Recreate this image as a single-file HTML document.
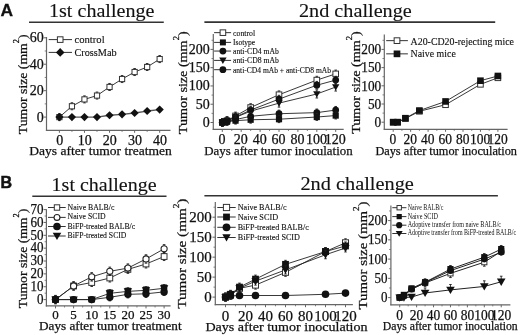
<!DOCTYPE html>
<html><head><meta charset="utf-8"><style>
html,body{margin:0;padding:0;background:#fff;width:520px;height:335px;overflow:hidden;}
svg{display:block;filter:blur(0.3px);}
</style></head><body>
<svg width="520" height="335" viewBox="0 0 520 335">
<rect width="520" height="335" fill="#fff"/>
<text x="0.50" y="15.80" font-size="17.4" font-family="Liberation Sans" font-weight="bold" text-anchor="start" fill="#111" stroke="#111" stroke-width="0.3" >A</text>
<text x="0.50" y="188.20" font-size="16.0" font-family="Liberation Sans" font-weight="bold" text-anchor="start" fill="#111" stroke="#111" stroke-width="0.5" >B</text>
<text x="49.00" y="16.70" font-size="19.6" font-family="Liberation Serif" font-weight="normal" text-anchor="start" fill="#111" stroke="#111" stroke-width="0.12" textLength="105.50" lengthAdjust="spacingAndGlyphs" >1st challenge</text>
<line x1="29.00" y1="22.30" x2="163.80" y2="22.30" stroke="#333" stroke-width="1.6" />
<text x="299.00" y="16.70" font-size="19.6" font-family="Liberation Serif" font-weight="normal" text-anchor="start" fill="#111" stroke="#111" stroke-width="0.12" textLength="112.80" lengthAdjust="spacingAndGlyphs" >2nd challenge</text>
<line x1="204.40" y1="22.10" x2="495.20" y2="22.10" stroke="#333" stroke-width="1.6" />
<text x="51.60" y="191.30" font-size="19.6" font-family="Liberation Serif" font-weight="normal" text-anchor="start" fill="#111" stroke="#111" stroke-width="0.12" textLength="105.00" lengthAdjust="spacingAndGlyphs" >1st challenge</text>
<line x1="32.30" y1="196.30" x2="166.50" y2="196.30" stroke="#333" stroke-width="1.6" />
<text x="300.40" y="190.00" font-size="19.6" font-family="Liberation Serif" font-weight="normal" text-anchor="start" fill="#111" stroke="#111" stroke-width="0.12" textLength="113.50" lengthAdjust="spacingAndGlyphs" >2nd challenge</text>
<line x1="204.40" y1="195.80" x2="497.90" y2="195.80" stroke="#333" stroke-width="1.6" />
<line x1="46.50" y1="37.00" x2="46.50" y2="130.80" stroke="#666" stroke-width="1.2" />
<line x1="45.90" y1="130.30" x2="170.50" y2="130.30" stroke="#666" stroke-width="1.2" />
<line x1="43.70" y1="117.10" x2="46.50" y2="117.10" stroke="#666" stroke-width="1" />
<text x="43.70" y="121.53" font-size="14" font-family="Liberation Serif" font-weight="normal" text-anchor="end" fill="#111" stroke="#111" stroke-width="0.25" >0</text>
<line x1="43.70" y1="90.67" x2="46.50" y2="90.67" stroke="#666" stroke-width="1" />
<text x="43.70" y="95.09" font-size="14" font-family="Liberation Serif" font-weight="normal" text-anchor="end" fill="#111" stroke="#111" stroke-width="0.25" >20</text>
<line x1="43.70" y1="64.23" x2="46.50" y2="64.23" stroke="#666" stroke-width="1" />
<text x="43.70" y="68.66" font-size="14" font-family="Liberation Serif" font-weight="normal" text-anchor="end" fill="#111" stroke="#111" stroke-width="0.25" >40</text>
<line x1="43.70" y1="37.80" x2="46.50" y2="37.80" stroke="#666" stroke-width="1" />
<text x="43.70" y="42.22" font-size="14" font-family="Liberation Serif" font-weight="normal" text-anchor="end" fill="#111" stroke="#111" stroke-width="0.25" >60</text>
<line x1="44.70" y1="103.88" x2="46.50" y2="103.88" stroke="#666" stroke-width="0.8" />
<line x1="44.70" y1="77.45" x2="46.50" y2="77.45" stroke="#666" stroke-width="0.8" />
<line x1="44.70" y1="51.01" x2="46.50" y2="51.01" stroke="#666" stroke-width="0.8" />
<line x1="59.40" y1="130.30" x2="59.40" y2="132.80" stroke="#666" stroke-width="1" />
<text x="59.70" y="144.58" font-size="14" font-family="Liberation Serif" font-weight="normal" text-anchor="middle" fill="#111" stroke="#111" stroke-width="0.25" >0</text>
<line x1="84.47" y1="130.30" x2="84.47" y2="132.80" stroke="#666" stroke-width="1" />
<text x="84.77" y="144.58" font-size="14" font-family="Liberation Serif" font-weight="normal" text-anchor="middle" fill="#111" stroke="#111" stroke-width="0.25" >10</text>
<line x1="109.54" y1="130.30" x2="109.54" y2="132.80" stroke="#666" stroke-width="1" />
<text x="109.84" y="144.58" font-size="14" font-family="Liberation Serif" font-weight="normal" text-anchor="middle" fill="#111" stroke="#111" stroke-width="0.25" >20</text>
<line x1="134.61" y1="130.30" x2="134.61" y2="132.80" stroke="#666" stroke-width="1" />
<text x="134.91" y="144.58" font-size="14" font-family="Liberation Serif" font-weight="normal" text-anchor="middle" fill="#111" stroke="#111" stroke-width="0.25" >30</text>
<line x1="159.68" y1="130.30" x2="159.68" y2="132.80" stroke="#666" stroke-width="1" />
<text x="159.98" y="144.58" font-size="14" font-family="Liberation Serif" font-weight="normal" text-anchor="middle" fill="#111" stroke="#111" stroke-width="0.25" >40</text>
<line x1="71.94" y1="130.30" x2="71.94" y2="131.90" stroke="#666" stroke-width="0.8" />
<line x1="97.00" y1="130.30" x2="97.00" y2="131.90" stroke="#666" stroke-width="0.8" />
<line x1="122.08" y1="130.30" x2="122.08" y2="131.90" stroke="#666" stroke-width="0.8" />
<line x1="147.15" y1="130.30" x2="147.15" y2="131.90" stroke="#666" stroke-width="0.8" />
<g transform="translate(27.20,134.15) rotate(-90) scale(1.0469,1)"><text x="0" y="0" font-size="13.1" font-family="Liberation Serif" fill="#111" stroke="#111" stroke-width="0.25">Tumor size (mm<tspan dy="-7.9" font-size="8.0">2</tspan><tspan dy="7.9">)</tspan></text></g>
<text x="29.30" y="154.60" font-size="13.3" font-family="Liberation Serif" font-weight="normal" text-anchor="start" fill="#111" stroke="#111" stroke-width="0.25" textLength="142.60" lengthAdjust="spacingAndGlyphs" >Days after tumor treatmen</text>
<polyline points="59.40,117.10 71.94,106.26 84.47,99.39 97.00,95.56 109.54,86.97 122.08,79.04 134.61,72.03 147.15,67.01 159.68,59.08" fill="none" stroke="#222" stroke-width="0.9" stroke-linejoin="round"/>
<polyline points="59.40,117.10 71.94,117.10 84.47,117.10 97.00,117.10 109.54,115.25 122.08,114.32 134.61,113.00 147.15,111.02 159.68,109.57" fill="none" stroke="#555" stroke-width="1.3" stroke-linejoin="round"/>
<line x1="59.40" y1="113.60" x2="59.40" y2="117.10" stroke="#222" stroke-width="0.9" />
<line x1="58.10" y1="113.60" x2="60.70" y2="113.60" stroke="#222" stroke-width="0.9" />
<line x1="59.40" y1="117.10" x2="59.40" y2="120.60" stroke="#222" stroke-width="0.9" />
<line x1="58.10" y1="120.60" x2="60.70" y2="120.60" stroke="#222" stroke-width="0.9" />
<rect x="56.80" y="114.50" width="5.20" height="5.20" fill="#fff" stroke="#333" stroke-width="1.0"/>
<line x1="71.94" y1="102.76" x2="71.94" y2="106.26" stroke="#222" stroke-width="0.9" />
<line x1="70.64" y1="102.76" x2="73.23" y2="102.76" stroke="#222" stroke-width="0.9" />
<line x1="71.94" y1="106.26" x2="71.94" y2="109.76" stroke="#222" stroke-width="0.9" />
<line x1="70.64" y1="109.76" x2="73.23" y2="109.76" stroke="#222" stroke-width="0.9" />
<rect x="69.34" y="103.66" width="5.20" height="5.20" fill="#fff" stroke="#333" stroke-width="1.0"/>
<line x1="84.47" y1="95.89" x2="84.47" y2="99.39" stroke="#222" stroke-width="0.9" />
<line x1="83.17" y1="95.89" x2="85.77" y2="95.89" stroke="#222" stroke-width="0.9" />
<line x1="84.47" y1="99.39" x2="84.47" y2="102.89" stroke="#222" stroke-width="0.9" />
<line x1="83.17" y1="102.89" x2="85.77" y2="102.89" stroke="#222" stroke-width="0.9" />
<rect x="81.87" y="96.79" width="5.20" height="5.20" fill="#fff" stroke="#333" stroke-width="1.0"/>
<line x1="97.00" y1="92.06" x2="97.00" y2="95.56" stroke="#222" stroke-width="0.9" />
<line x1="95.70" y1="92.06" x2="98.30" y2="92.06" stroke="#222" stroke-width="0.9" />
<line x1="97.00" y1="95.56" x2="97.00" y2="99.06" stroke="#222" stroke-width="0.9" />
<line x1="95.70" y1="99.06" x2="98.30" y2="99.06" stroke="#222" stroke-width="0.9" />
<rect x="94.41" y="92.96" width="5.20" height="5.20" fill="#fff" stroke="#333" stroke-width="1.0"/>
<line x1="109.54" y1="83.47" x2="109.54" y2="86.97" stroke="#222" stroke-width="0.9" />
<line x1="108.24" y1="83.47" x2="110.84" y2="83.47" stroke="#222" stroke-width="0.9" />
<line x1="109.54" y1="86.97" x2="109.54" y2="90.47" stroke="#222" stroke-width="0.9" />
<line x1="108.24" y1="90.47" x2="110.84" y2="90.47" stroke="#222" stroke-width="0.9" />
<rect x="106.94" y="84.37" width="5.20" height="5.20" fill="#fff" stroke="#333" stroke-width="1.0"/>
<line x1="122.08" y1="75.54" x2="122.08" y2="79.04" stroke="#222" stroke-width="0.9" />
<line x1="120.78" y1="75.54" x2="123.38" y2="75.54" stroke="#222" stroke-width="0.9" />
<line x1="122.08" y1="79.04" x2="122.08" y2="82.54" stroke="#222" stroke-width="0.9" />
<line x1="120.78" y1="82.54" x2="123.38" y2="82.54" stroke="#222" stroke-width="0.9" />
<rect x="119.48" y="76.44" width="5.20" height="5.20" fill="#fff" stroke="#333" stroke-width="1.0"/>
<line x1="134.61" y1="68.53" x2="134.61" y2="72.03" stroke="#222" stroke-width="0.9" />
<line x1="133.31" y1="68.53" x2="135.91" y2="68.53" stroke="#222" stroke-width="0.9" />
<line x1="134.61" y1="72.03" x2="134.61" y2="75.53" stroke="#222" stroke-width="0.9" />
<line x1="133.31" y1="75.53" x2="135.91" y2="75.53" stroke="#222" stroke-width="0.9" />
<rect x="132.01" y="69.43" width="5.20" height="5.20" fill="#fff" stroke="#333" stroke-width="1.0"/>
<line x1="147.15" y1="63.51" x2="147.15" y2="67.01" stroke="#222" stroke-width="0.9" />
<line x1="145.84" y1="63.51" x2="148.45" y2="63.51" stroke="#222" stroke-width="0.9" />
<line x1="147.15" y1="67.01" x2="147.15" y2="70.51" stroke="#222" stroke-width="0.9" />
<line x1="145.84" y1="70.51" x2="148.45" y2="70.51" stroke="#222" stroke-width="0.9" />
<rect x="144.55" y="64.41" width="5.20" height="5.20" fill="#fff" stroke="#333" stroke-width="1.0"/>
<line x1="159.68" y1="55.58" x2="159.68" y2="59.08" stroke="#222" stroke-width="0.9" />
<line x1="158.38" y1="55.58" x2="160.98" y2="55.58" stroke="#222" stroke-width="0.9" />
<line x1="159.68" y1="59.08" x2="159.68" y2="62.58" stroke="#222" stroke-width="0.9" />
<line x1="158.38" y1="62.58" x2="160.98" y2="62.58" stroke="#222" stroke-width="0.9" />
<rect x="157.08" y="56.48" width="5.20" height="5.20" fill="#fff" stroke="#333" stroke-width="1.0"/>
<path d="M59.40,113.00 L63.50,117.10 L59.40,121.20 L55.30,117.10Z" fill="#111"/>
<path d="M71.94,113.00 L76.03,117.10 L71.94,121.20 L67.84,117.10Z" fill="#111"/>
<path d="M84.47,113.00 L88.57,117.10 L84.47,121.20 L80.37,117.10Z" fill="#111"/>
<path d="M97.00,113.00 L101.10,117.10 L97.00,121.20 L92.91,117.10Z" fill="#111"/>
<path d="M109.54,111.15 L113.64,115.25 L109.54,119.35 L105.44,115.25Z" fill="#111"/>
<path d="M122.08,110.22 L126.17,114.32 L122.08,118.42 L117.98,114.32Z" fill="#111"/>
<path d="M134.61,108.90 L138.71,113.00 L134.61,117.10 L130.51,113.00Z" fill="#111"/>
<path d="M147.15,106.92 L151.25,111.02 L147.15,115.12 L143.05,111.02Z" fill="#111"/>
<path d="M159.68,105.47 L163.78,109.57 L159.68,113.67 L155.58,109.57Z" fill="#111"/>
<line x1="48.70" y1="39.60" x2="72.00" y2="39.60" stroke="#333" stroke-width="1.0" />
<rect x="57.40" y="36.80" width="5.60" height="5.60" fill="#fff" stroke="#333" stroke-width="1.0"/>
<text x="74.40" y="42.90" font-size="10.5" font-family="Liberation Serif" font-weight="normal" text-anchor="start" fill="#111" stroke="#111" stroke-width="0.12" textLength="30.30" lengthAdjust="spacingAndGlyphs" >control</text>
<line x1="48.70" y1="52.40" x2="72.00" y2="52.40" stroke="#333" stroke-width="1.0" />
<path d="M60.20,48.10 L64.50,52.40 L60.20,56.70 L55.90,52.40Z" fill="#111"/>
<text x="74.40" y="56.00" font-size="10.5" font-family="Liberation Serif" font-weight="normal" text-anchor="start" fill="#111" stroke="#111" stroke-width="0.12" textLength="42.20" lengthAdjust="spacingAndGlyphs" >CrossMab</text>
<line x1="213.30" y1="34.10" x2="213.30" y2="129.90" stroke="#666" stroke-width="1.2" />
<line x1="212.70" y1="129.40" x2="343.70" y2="129.40" stroke="#666" stroke-width="1.2" />
<line x1="210.50" y1="122.50" x2="213.30" y2="122.50" stroke="#666" stroke-width="1" />
<text x="209.80" y="126.78" font-size="14" font-family="Liberation Serif" font-weight="normal" text-anchor="end" fill="#111" stroke="#111" stroke-width="0.25" >0</text>
<line x1="210.50" y1="104.22" x2="213.30" y2="104.22" stroke="#666" stroke-width="1" />
<text x="209.80" y="108.50" font-size="14" font-family="Liberation Serif" font-weight="normal" text-anchor="end" fill="#111" stroke="#111" stroke-width="0.25" >50</text>
<line x1="210.50" y1="85.95" x2="213.30" y2="85.95" stroke="#666" stroke-width="1" />
<text x="209.80" y="90.23" font-size="14" font-family="Liberation Serif" font-weight="normal" text-anchor="end" fill="#111" stroke="#111" stroke-width="0.25" >100</text>
<line x1="210.50" y1="67.68" x2="213.30" y2="67.68" stroke="#666" stroke-width="1" />
<text x="209.80" y="71.95" font-size="14" font-family="Liberation Serif" font-weight="normal" text-anchor="end" fill="#111" stroke="#111" stroke-width="0.25" >150</text>
<line x1="210.50" y1="49.40" x2="213.30" y2="49.40" stroke="#666" stroke-width="1" />
<text x="209.80" y="53.68" font-size="14" font-family="Liberation Serif" font-weight="normal" text-anchor="end" fill="#111" stroke="#111" stroke-width="0.25" >200</text>
<line x1="211.50" y1="113.36" x2="213.30" y2="113.36" stroke="#666" stroke-width="0.8" />
<line x1="211.50" y1="95.09" x2="213.30" y2="95.09" stroke="#666" stroke-width="0.8" />
<line x1="211.50" y1="76.81" x2="213.30" y2="76.81" stroke="#666" stroke-width="0.8" />
<line x1="211.50" y1="58.54" x2="213.30" y2="58.54" stroke="#666" stroke-width="0.8" />
<line x1="211.50" y1="40.26" x2="213.30" y2="40.26" stroke="#666" stroke-width="0.8" />
<line x1="222.30" y1="129.40" x2="222.30" y2="131.90" stroke="#666" stroke-width="1" />
<text x="221.90" y="144.33" font-size="14" font-family="Liberation Serif" font-weight="normal" text-anchor="middle" fill="#111" stroke="#111" stroke-width="0.25" >0</text>
<line x1="241.20" y1="129.40" x2="241.20" y2="131.90" stroke="#666" stroke-width="1" />
<text x="240.80" y="144.33" font-size="14" font-family="Liberation Serif" font-weight="normal" text-anchor="middle" fill="#111" stroke="#111" stroke-width="0.25" >20</text>
<line x1="260.10" y1="129.40" x2="260.10" y2="131.90" stroke="#666" stroke-width="1" />
<text x="259.70" y="144.33" font-size="14" font-family="Liberation Serif" font-weight="normal" text-anchor="middle" fill="#111" stroke="#111" stroke-width="0.25" >40</text>
<line x1="279.00" y1="129.40" x2="279.00" y2="131.90" stroke="#666" stroke-width="1" />
<text x="278.60" y="144.33" font-size="14" font-family="Liberation Serif" font-weight="normal" text-anchor="middle" fill="#111" stroke="#111" stroke-width="0.25" >60</text>
<line x1="297.90" y1="129.40" x2="297.90" y2="131.90" stroke="#666" stroke-width="1" />
<text x="297.50" y="144.33" font-size="14" font-family="Liberation Serif" font-weight="normal" text-anchor="middle" fill="#111" stroke="#111" stroke-width="0.25" >80</text>
<line x1="316.80" y1="129.40" x2="316.80" y2="131.90" stroke="#666" stroke-width="1" />
<text x="316.40" y="144.33" font-size="14" font-family="Liberation Serif" font-weight="normal" text-anchor="middle" fill="#111" stroke="#111" stroke-width="0.25" >100</text>
<line x1="335.70" y1="129.40" x2="335.70" y2="131.90" stroke="#666" stroke-width="1" />
<text x="335.30" y="144.33" font-size="14" font-family="Liberation Serif" font-weight="normal" text-anchor="middle" fill="#111" stroke="#111" stroke-width="0.25" >120</text>
<line x1="231.75" y1="129.40" x2="231.75" y2="131.00" stroke="#666" stroke-width="0.8" />
<line x1="250.65" y1="129.40" x2="250.65" y2="131.00" stroke="#666" stroke-width="0.8" />
<line x1="269.55" y1="129.40" x2="269.55" y2="131.00" stroke="#666" stroke-width="0.8" />
<line x1="288.45" y1="129.40" x2="288.45" y2="131.00" stroke="#666" stroke-width="0.8" />
<line x1="307.35" y1="129.40" x2="307.35" y2="131.00" stroke="#666" stroke-width="0.8" />
<line x1="326.25" y1="129.40" x2="326.25" y2="131.00" stroke="#666" stroke-width="0.8" />
<g transform="translate(186.90,134.15) rotate(-90) scale(1.0807,1)"><text x="0" y="0" font-size="13.1" font-family="Liberation Serif" fill="#111" stroke="#111" stroke-width="0.25">Tumor size (mm<tspan dy="-7.9" font-size="8.0">2</tspan><tspan dy="7.9">)</tspan></text></g>
<text x="204.30" y="155.30" font-size="13" font-family="Liberation Serif" font-weight="normal" text-anchor="start" fill="#111" stroke="#111" stroke-width="0.25" textLength="148.30" lengthAdjust="spacingAndGlyphs" >Days after tumor inoculation</text>
<polyline points="222.30,122.50 227.03,120.67 235.53,115.92 250.65,107.51 279.00,94.72 316.80,80.10 335.70,73.89" fill="none" stroke="#222" stroke-width="0.9" stroke-linejoin="round"/>
<polyline points="222.30,122.50 227.03,120.67 235.53,117.02 250.65,110.07 279.00,99.11 316.80,85.22 335.70,80.10" fill="none" stroke="#222" stroke-width="0.9" stroke-linejoin="round"/>
<polyline points="222.30,122.50 227.03,121.04 235.53,117.38 250.65,111.17 279.00,103.13 316.80,93.99 335.70,87.05" fill="none" stroke="#222" stroke-width="0.9" stroke-linejoin="round"/>
<polyline points="222.30,122.50 227.03,121.40 235.53,119.58 250.65,116.29 279.00,113.73 316.80,112.63 335.70,110.07" fill="none" stroke="#222" stroke-width="0.9" stroke-linejoin="round"/>
<polyline points="222.30,122.50 227.03,121.77 235.53,120.67 250.65,119.76 279.00,119.21 316.80,117.02 335.70,115.56" fill="none" stroke="#222" stroke-width="0.9" stroke-linejoin="round"/>
<line x1="222.30" y1="118.70" x2="222.30" y2="122.50" stroke="#222" stroke-width="0.9" />
<line x1="221.00" y1="118.70" x2="223.60" y2="118.70" stroke="#222" stroke-width="0.9" />
<line x1="222.30" y1="122.50" x2="222.30" y2="126.30" stroke="#222" stroke-width="0.9" />
<line x1="221.00" y1="126.30" x2="223.60" y2="126.30" stroke="#222" stroke-width="0.9" />
<rect x="219.50" y="119.70" width="5.60" height="5.60" fill="#fff" stroke="#333" stroke-width="1.0"/>
<line x1="227.03" y1="116.87" x2="227.03" y2="120.67" stroke="#222" stroke-width="0.9" />
<line x1="225.72" y1="116.87" x2="228.33" y2="116.87" stroke="#222" stroke-width="0.9" />
<line x1="227.03" y1="120.67" x2="227.03" y2="124.47" stroke="#222" stroke-width="0.9" />
<line x1="225.72" y1="124.47" x2="228.33" y2="124.47" stroke="#222" stroke-width="0.9" />
<rect x="224.22" y="117.87" width="5.60" height="5.60" fill="#fff" stroke="#333" stroke-width="1.0"/>
<line x1="235.53" y1="112.12" x2="235.53" y2="115.92" stroke="#222" stroke-width="0.9" />
<line x1="234.23" y1="112.12" x2="236.83" y2="112.12" stroke="#222" stroke-width="0.9" />
<line x1="235.53" y1="115.92" x2="235.53" y2="119.72" stroke="#222" stroke-width="0.9" />
<line x1="234.23" y1="119.72" x2="236.83" y2="119.72" stroke="#222" stroke-width="0.9" />
<rect x="232.73" y="113.12" width="5.60" height="5.60" fill="#fff" stroke="#333" stroke-width="1.0"/>
<line x1="250.65" y1="103.71" x2="250.65" y2="107.51" stroke="#222" stroke-width="0.9" />
<line x1="249.35" y1="103.71" x2="251.95" y2="103.71" stroke="#222" stroke-width="0.9" />
<line x1="250.65" y1="107.51" x2="250.65" y2="111.31" stroke="#222" stroke-width="0.9" />
<line x1="249.35" y1="111.31" x2="251.95" y2="111.31" stroke="#222" stroke-width="0.9" />
<rect x="247.85" y="104.71" width="5.60" height="5.60" fill="#fff" stroke="#333" stroke-width="1.0"/>
<line x1="279.00" y1="90.92" x2="279.00" y2="94.72" stroke="#222" stroke-width="0.9" />
<line x1="277.70" y1="90.92" x2="280.30" y2="90.92" stroke="#222" stroke-width="0.9" />
<line x1="279.00" y1="94.72" x2="279.00" y2="98.52" stroke="#222" stroke-width="0.9" />
<line x1="277.70" y1="98.52" x2="280.30" y2="98.52" stroke="#222" stroke-width="0.9" />
<rect x="276.20" y="91.92" width="5.60" height="5.60" fill="#fff" stroke="#333" stroke-width="1.0"/>
<line x1="316.80" y1="76.30" x2="316.80" y2="80.10" stroke="#222" stroke-width="0.9" />
<line x1="315.50" y1="76.30" x2="318.10" y2="76.30" stroke="#222" stroke-width="0.9" />
<line x1="316.80" y1="80.10" x2="316.80" y2="83.90" stroke="#222" stroke-width="0.9" />
<line x1="315.50" y1="83.90" x2="318.10" y2="83.90" stroke="#222" stroke-width="0.9" />
<rect x="314.00" y="77.30" width="5.60" height="5.60" fill="#fff" stroke="#333" stroke-width="1.0"/>
<line x1="335.70" y1="70.09" x2="335.70" y2="73.89" stroke="#222" stroke-width="0.9" />
<line x1="334.40" y1="70.09" x2="337.00" y2="70.09" stroke="#222" stroke-width="0.9" />
<line x1="335.70" y1="73.89" x2="335.70" y2="77.69" stroke="#222" stroke-width="0.9" />
<line x1="334.40" y1="77.69" x2="337.00" y2="77.69" stroke="#222" stroke-width="0.9" />
<rect x="332.90" y="71.09" width="5.60" height="5.60" fill="#fff" stroke="#333" stroke-width="1.0"/>
<line x1="222.30" y1="118.70" x2="222.30" y2="122.50" stroke="#222" stroke-width="0.9" />
<line x1="221.00" y1="118.70" x2="223.60" y2="118.70" stroke="#222" stroke-width="0.9" />
<line x1="222.30" y1="122.50" x2="222.30" y2="126.30" stroke="#222" stroke-width="0.9" />
<line x1="221.00" y1="126.30" x2="223.60" y2="126.30" stroke="#222" stroke-width="0.9" />
<circle cx="222.30" cy="122.50" r="3.40" fill="#111"/>
<line x1="227.03" y1="116.87" x2="227.03" y2="120.67" stroke="#222" stroke-width="0.9" />
<line x1="225.72" y1="116.87" x2="228.33" y2="116.87" stroke="#222" stroke-width="0.9" />
<line x1="227.03" y1="120.67" x2="227.03" y2="124.47" stroke="#222" stroke-width="0.9" />
<line x1="225.72" y1="124.47" x2="228.33" y2="124.47" stroke="#222" stroke-width="0.9" />
<circle cx="227.03" cy="120.67" r="3.40" fill="#111"/>
<line x1="235.53" y1="113.22" x2="235.53" y2="117.02" stroke="#222" stroke-width="0.9" />
<line x1="234.23" y1="113.22" x2="236.83" y2="113.22" stroke="#222" stroke-width="0.9" />
<line x1="235.53" y1="117.02" x2="235.53" y2="120.82" stroke="#222" stroke-width="0.9" />
<line x1="234.23" y1="120.82" x2="236.83" y2="120.82" stroke="#222" stroke-width="0.9" />
<circle cx="235.53" cy="117.02" r="3.40" fill="#111"/>
<line x1="250.65" y1="106.27" x2="250.65" y2="110.07" stroke="#222" stroke-width="0.9" />
<line x1="249.35" y1="106.27" x2="251.95" y2="106.27" stroke="#222" stroke-width="0.9" />
<line x1="250.65" y1="110.07" x2="250.65" y2="113.87" stroke="#222" stroke-width="0.9" />
<line x1="249.35" y1="113.87" x2="251.95" y2="113.87" stroke="#222" stroke-width="0.9" />
<circle cx="250.65" cy="110.07" r="3.40" fill="#111"/>
<line x1="279.00" y1="95.31" x2="279.00" y2="99.11" stroke="#222" stroke-width="0.9" />
<line x1="277.70" y1="95.31" x2="280.30" y2="95.31" stroke="#222" stroke-width="0.9" />
<line x1="279.00" y1="99.11" x2="279.00" y2="102.91" stroke="#222" stroke-width="0.9" />
<line x1="277.70" y1="102.91" x2="280.30" y2="102.91" stroke="#222" stroke-width="0.9" />
<circle cx="279.00" cy="99.11" r="3.40" fill="#111"/>
<line x1="316.80" y1="81.42" x2="316.80" y2="85.22" stroke="#222" stroke-width="0.9" />
<line x1="315.50" y1="81.42" x2="318.10" y2="81.42" stroke="#222" stroke-width="0.9" />
<line x1="316.80" y1="85.22" x2="316.80" y2="89.02" stroke="#222" stroke-width="0.9" />
<line x1="315.50" y1="89.02" x2="318.10" y2="89.02" stroke="#222" stroke-width="0.9" />
<circle cx="316.80" cy="85.22" r="3.40" fill="#111"/>
<line x1="335.70" y1="76.30" x2="335.70" y2="80.10" stroke="#222" stroke-width="0.9" />
<line x1="334.40" y1="76.30" x2="337.00" y2="76.30" stroke="#222" stroke-width="0.9" />
<line x1="335.70" y1="80.10" x2="335.70" y2="83.90" stroke="#222" stroke-width="0.9" />
<line x1="334.40" y1="83.90" x2="337.00" y2="83.90" stroke="#222" stroke-width="0.9" />
<circle cx="335.70" cy="80.10" r="3.40" fill="#111"/>
<line x1="222.30" y1="118.50" x2="222.30" y2="122.50" stroke="#222" stroke-width="0.9" />
<line x1="221.00" y1="118.50" x2="223.60" y2="118.50" stroke="#222" stroke-width="0.9" />
<line x1="222.30" y1="122.50" x2="222.30" y2="126.50" stroke="#222" stroke-width="0.9" />
<line x1="221.00" y1="126.50" x2="223.60" y2="126.50" stroke="#222" stroke-width="0.9" />
<path d="M218.60,119.72 L226.00,119.72 L222.30,126.02Z" fill="#111"/>
<line x1="227.03" y1="117.04" x2="227.03" y2="121.04" stroke="#222" stroke-width="0.9" />
<line x1="225.72" y1="117.04" x2="228.33" y2="117.04" stroke="#222" stroke-width="0.9" />
<line x1="227.03" y1="121.04" x2="227.03" y2="125.04" stroke="#222" stroke-width="0.9" />
<line x1="225.72" y1="125.04" x2="228.33" y2="125.04" stroke="#222" stroke-width="0.9" />
<path d="M223.33,118.26 L230.72,118.26 L227.03,124.55Z" fill="#111"/>
<line x1="235.53" y1="113.38" x2="235.53" y2="117.38" stroke="#222" stroke-width="0.9" />
<line x1="234.23" y1="113.38" x2="236.83" y2="113.38" stroke="#222" stroke-width="0.9" />
<line x1="235.53" y1="117.38" x2="235.53" y2="121.38" stroke="#222" stroke-width="0.9" />
<line x1="234.23" y1="121.38" x2="236.83" y2="121.38" stroke="#222" stroke-width="0.9" />
<path d="M231.83,114.61 L239.23,114.61 L235.53,120.90Z" fill="#111"/>
<line x1="250.65" y1="107.17" x2="250.65" y2="111.17" stroke="#222" stroke-width="0.9" />
<line x1="249.35" y1="107.17" x2="251.95" y2="107.17" stroke="#222" stroke-width="0.9" />
<line x1="250.65" y1="111.17" x2="250.65" y2="115.17" stroke="#222" stroke-width="0.9" />
<line x1="249.35" y1="115.17" x2="251.95" y2="115.17" stroke="#222" stroke-width="0.9" />
<path d="M246.95,108.39 L254.35,108.39 L250.65,114.68Z" fill="#111"/>
<line x1="279.00" y1="99.13" x2="279.00" y2="103.13" stroke="#222" stroke-width="0.9" />
<line x1="277.70" y1="99.13" x2="280.30" y2="99.13" stroke="#222" stroke-width="0.9" />
<line x1="279.00" y1="103.13" x2="279.00" y2="107.13" stroke="#222" stroke-width="0.9" />
<line x1="277.70" y1="107.13" x2="280.30" y2="107.13" stroke="#222" stroke-width="0.9" />
<path d="M275.30,100.35 L282.70,100.35 L279.00,106.64Z" fill="#111"/>
<line x1="316.80" y1="89.99" x2="316.80" y2="93.99" stroke="#222" stroke-width="0.9" />
<line x1="315.50" y1="89.99" x2="318.10" y2="89.99" stroke="#222" stroke-width="0.9" />
<line x1="316.80" y1="93.99" x2="316.80" y2="97.99" stroke="#222" stroke-width="0.9" />
<line x1="315.50" y1="97.99" x2="318.10" y2="97.99" stroke="#222" stroke-width="0.9" />
<path d="M313.10,91.22 L320.50,91.22 L316.80,97.51Z" fill="#111"/>
<line x1="335.70" y1="83.05" x2="335.70" y2="87.05" stroke="#222" stroke-width="0.9" />
<line x1="334.40" y1="83.05" x2="337.00" y2="83.05" stroke="#222" stroke-width="0.9" />
<line x1="335.70" y1="87.05" x2="335.70" y2="91.05" stroke="#222" stroke-width="0.9" />
<line x1="334.40" y1="91.05" x2="337.00" y2="91.05" stroke="#222" stroke-width="0.9" />
<path d="M332.00,84.27 L339.40,84.27 L335.70,90.56Z" fill="#111"/>
<line x1="222.30" y1="118.90" x2="222.30" y2="122.50" stroke="#222" stroke-width="0.9" />
<line x1="221.00" y1="118.90" x2="223.60" y2="118.90" stroke="#222" stroke-width="0.9" />
<line x1="222.30" y1="122.50" x2="222.30" y2="126.10" stroke="#222" stroke-width="0.9" />
<line x1="221.00" y1="126.10" x2="223.60" y2="126.10" stroke="#222" stroke-width="0.9" />
<circle cx="222.30" cy="122.50" r="3.40" fill="#111"/>
<line x1="227.03" y1="117.80" x2="227.03" y2="121.40" stroke="#222" stroke-width="0.9" />
<line x1="225.72" y1="117.80" x2="228.33" y2="117.80" stroke="#222" stroke-width="0.9" />
<line x1="227.03" y1="121.40" x2="227.03" y2="125.00" stroke="#222" stroke-width="0.9" />
<line x1="225.72" y1="125.00" x2="228.33" y2="125.00" stroke="#222" stroke-width="0.9" />
<circle cx="227.03" cy="121.40" r="3.40" fill="#111"/>
<line x1="235.53" y1="115.98" x2="235.53" y2="119.58" stroke="#222" stroke-width="0.9" />
<line x1="234.23" y1="115.98" x2="236.83" y2="115.98" stroke="#222" stroke-width="0.9" />
<line x1="235.53" y1="119.58" x2="235.53" y2="123.18" stroke="#222" stroke-width="0.9" />
<line x1="234.23" y1="123.18" x2="236.83" y2="123.18" stroke="#222" stroke-width="0.9" />
<circle cx="235.53" cy="119.58" r="3.40" fill="#111"/>
<line x1="250.65" y1="112.69" x2="250.65" y2="116.29" stroke="#222" stroke-width="0.9" />
<line x1="249.35" y1="112.69" x2="251.95" y2="112.69" stroke="#222" stroke-width="0.9" />
<line x1="250.65" y1="116.29" x2="250.65" y2="119.89" stroke="#222" stroke-width="0.9" />
<line x1="249.35" y1="119.89" x2="251.95" y2="119.89" stroke="#222" stroke-width="0.9" />
<circle cx="250.65" cy="116.29" r="3.40" fill="#111"/>
<line x1="279.00" y1="110.13" x2="279.00" y2="113.73" stroke="#222" stroke-width="0.9" />
<line x1="277.70" y1="110.13" x2="280.30" y2="110.13" stroke="#222" stroke-width="0.9" />
<line x1="279.00" y1="113.73" x2="279.00" y2="117.33" stroke="#222" stroke-width="0.9" />
<line x1="277.70" y1="117.33" x2="280.30" y2="117.33" stroke="#222" stroke-width="0.9" />
<circle cx="279.00" cy="113.73" r="3.40" fill="#111"/>
<line x1="316.80" y1="109.03" x2="316.80" y2="112.63" stroke="#222" stroke-width="0.9" />
<line x1="315.50" y1="109.03" x2="318.10" y2="109.03" stroke="#222" stroke-width="0.9" />
<line x1="316.80" y1="112.63" x2="316.80" y2="116.23" stroke="#222" stroke-width="0.9" />
<line x1="315.50" y1="116.23" x2="318.10" y2="116.23" stroke="#222" stroke-width="0.9" />
<circle cx="316.80" cy="112.63" r="3.40" fill="#111"/>
<line x1="335.70" y1="106.47" x2="335.70" y2="110.07" stroke="#222" stroke-width="0.9" />
<line x1="334.40" y1="106.47" x2="337.00" y2="106.47" stroke="#222" stroke-width="0.9" />
<line x1="335.70" y1="110.07" x2="335.70" y2="113.67" stroke="#222" stroke-width="0.9" />
<line x1="334.40" y1="113.67" x2="337.00" y2="113.67" stroke="#222" stroke-width="0.9" />
<circle cx="335.70" cy="110.07" r="3.40" fill="#111"/>
<line x1="222.30" y1="119.10" x2="222.30" y2="122.50" stroke="#222" stroke-width="0.9" />
<line x1="221.00" y1="119.10" x2="223.60" y2="119.10" stroke="#222" stroke-width="0.9" />
<line x1="222.30" y1="122.50" x2="222.30" y2="125.90" stroke="#222" stroke-width="0.9" />
<line x1="221.00" y1="125.90" x2="223.60" y2="125.90" stroke="#222" stroke-width="0.9" />
<rect x="219.20" y="119.40" width="6.20" height="6.20" fill="#111"/>
<line x1="227.03" y1="118.37" x2="227.03" y2="121.77" stroke="#222" stroke-width="0.9" />
<line x1="225.72" y1="118.37" x2="228.33" y2="118.37" stroke="#222" stroke-width="0.9" />
<line x1="227.03" y1="121.77" x2="227.03" y2="125.17" stroke="#222" stroke-width="0.9" />
<line x1="225.72" y1="125.17" x2="228.33" y2="125.17" stroke="#222" stroke-width="0.9" />
<rect x="223.93" y="118.67" width="6.20" height="6.20" fill="#111"/>
<line x1="235.53" y1="117.27" x2="235.53" y2="120.67" stroke="#222" stroke-width="0.9" />
<line x1="234.23" y1="117.27" x2="236.83" y2="117.27" stroke="#222" stroke-width="0.9" />
<line x1="235.53" y1="120.67" x2="235.53" y2="124.07" stroke="#222" stroke-width="0.9" />
<line x1="234.23" y1="124.07" x2="236.83" y2="124.07" stroke="#222" stroke-width="0.9" />
<rect x="232.43" y="117.57" width="6.20" height="6.20" fill="#111"/>
<line x1="250.65" y1="116.36" x2="250.65" y2="119.76" stroke="#222" stroke-width="0.9" />
<line x1="249.35" y1="116.36" x2="251.95" y2="116.36" stroke="#222" stroke-width="0.9" />
<line x1="250.65" y1="119.76" x2="250.65" y2="123.16" stroke="#222" stroke-width="0.9" />
<line x1="249.35" y1="123.16" x2="251.95" y2="123.16" stroke="#222" stroke-width="0.9" />
<rect x="247.55" y="116.66" width="6.20" height="6.20" fill="#111"/>
<line x1="279.00" y1="115.81" x2="279.00" y2="119.21" stroke="#222" stroke-width="0.9" />
<line x1="277.70" y1="115.81" x2="280.30" y2="115.81" stroke="#222" stroke-width="0.9" />
<line x1="279.00" y1="119.21" x2="279.00" y2="122.61" stroke="#222" stroke-width="0.9" />
<line x1="277.70" y1="122.61" x2="280.30" y2="122.61" stroke="#222" stroke-width="0.9" />
<rect x="275.90" y="116.11" width="6.20" height="6.20" fill="#111"/>
<line x1="316.80" y1="113.62" x2="316.80" y2="117.02" stroke="#222" stroke-width="0.9" />
<line x1="315.50" y1="113.62" x2="318.10" y2="113.62" stroke="#222" stroke-width="0.9" />
<line x1="316.80" y1="117.02" x2="316.80" y2="120.42" stroke="#222" stroke-width="0.9" />
<line x1="315.50" y1="120.42" x2="318.10" y2="120.42" stroke="#222" stroke-width="0.9" />
<rect x="313.70" y="113.92" width="6.20" height="6.20" fill="#111"/>
<line x1="335.70" y1="112.16" x2="335.70" y2="115.56" stroke="#222" stroke-width="0.9" />
<line x1="334.40" y1="112.16" x2="337.00" y2="112.16" stroke="#222" stroke-width="0.9" />
<line x1="335.70" y1="115.56" x2="335.70" y2="118.96" stroke="#222" stroke-width="0.9" />
<line x1="334.40" y1="118.96" x2="337.00" y2="118.96" stroke="#222" stroke-width="0.9" />
<rect x="332.60" y="112.46" width="6.20" height="6.20" fill="#111"/>
<line x1="214.10" y1="32.65" x2="231.10" y2="32.65" stroke="#333" stroke-width="1.0" />
<rect x="220.10" y="29.85" width="5.60" height="5.60" fill="#fff" stroke="#333" stroke-width="1.0"/>
<text x="233.00" y="35.50" font-size="7.6" font-family="Liberation Serif" font-weight="normal" text-anchor="start" fill="#111" stroke="#111" stroke-width="0.12" textLength="22.20" lengthAdjust="spacingAndGlyphs" >control</text>
<line x1="214.10" y1="42.40" x2="231.10" y2="42.40" stroke="#333" stroke-width="1.0" />
<rect x="219.90" y="39.40" width="6.00" height="6.00" fill="#111"/>
<text x="233.00" y="45.00" font-size="7.6" font-family="Liberation Serif" font-weight="normal" text-anchor="start" fill="#111" stroke="#111" stroke-width="0.12" textLength="22.20" lengthAdjust="spacingAndGlyphs" >Isotype</text>
<line x1="214.10" y1="51.05" x2="231.10" y2="51.05" stroke="#333" stroke-width="1.0" />
<circle cx="222.90" cy="51.05" r="3.40" fill="#111"/>
<text x="233.00" y="54.00" font-size="7.6" font-family="Liberation Serif" font-weight="normal" text-anchor="start" fill="#111" stroke="#111" stroke-width="0.12" textLength="45.80" lengthAdjust="spacingAndGlyphs" >anti-CD4 mAb</text>
<line x1="214.10" y1="60.40" x2="231.10" y2="60.40" stroke="#333" stroke-width="1.0" />
<path d="M219.20,57.62 L226.60,57.62 L222.90,63.91Z" fill="#111"/>
<text x="233.00" y="63.30" font-size="7.6" font-family="Liberation Serif" font-weight="normal" text-anchor="start" fill="#111" stroke="#111" stroke-width="0.12" textLength="45.80" lengthAdjust="spacingAndGlyphs" >anti-CD8 mAb</text>
<line x1="214.10" y1="69.70" x2="231.10" y2="69.70" stroke="#333" stroke-width="1.0" />
<circle cx="222.90" cy="69.70" r="3.40" fill="#111"/>
<text x="233.00" y="72.50" font-size="7.6" font-family="Liberation Serif" font-weight="normal" text-anchor="start" fill="#111" stroke="#111" stroke-width="0.12" textLength="98.00" lengthAdjust="spacingAndGlyphs" >anti-CD4 mAb + anti-CD8 mAb</text>
<line x1="384.30" y1="34.50" x2="384.30" y2="129.80" stroke="#666" stroke-width="1.2" />
<line x1="383.70" y1="129.30" x2="507.60" y2="129.30" stroke="#666" stroke-width="1.2" />
<line x1="381.50" y1="122.20" x2="384.30" y2="122.20" stroke="#666" stroke-width="1" />
<text x="381.20" y="126.91" font-size="14.5" font-family="Liberation Serif" font-weight="normal" text-anchor="end" fill="#111" stroke="#111" stroke-width="0.25" textLength="6.65" lengthAdjust="spacingAndGlyphs" >0</text>
<line x1="381.50" y1="104.00" x2="384.30" y2="104.00" stroke="#666" stroke-width="1" />
<text x="381.20" y="108.71" font-size="14.5" font-family="Liberation Serif" font-weight="normal" text-anchor="end" fill="#111" stroke="#111" stroke-width="0.25" textLength="13.30" lengthAdjust="spacingAndGlyphs" >50</text>
<line x1="381.50" y1="85.80" x2="384.30" y2="85.80" stroke="#666" stroke-width="1" />
<text x="381.20" y="90.51" font-size="14.5" font-family="Liberation Serif" font-weight="normal" text-anchor="end" fill="#111" stroke="#111" stroke-width="0.25" textLength="19.95" lengthAdjust="spacingAndGlyphs" >100</text>
<line x1="381.50" y1="67.60" x2="384.30" y2="67.60" stroke="#666" stroke-width="1" />
<text x="381.20" y="72.31" font-size="14.5" font-family="Liberation Serif" font-weight="normal" text-anchor="end" fill="#111" stroke="#111" stroke-width="0.25" textLength="19.95" lengthAdjust="spacingAndGlyphs" >150</text>
<line x1="381.50" y1="49.40" x2="384.30" y2="49.40" stroke="#666" stroke-width="1" />
<text x="381.20" y="54.11" font-size="14.5" font-family="Liberation Serif" font-weight="normal" text-anchor="end" fill="#111" stroke="#111" stroke-width="0.25" textLength="19.95" lengthAdjust="spacingAndGlyphs" >200</text>
<line x1="382.50" y1="113.10" x2="384.30" y2="113.10" stroke="#666" stroke-width="0.8" />
<line x1="382.50" y1="94.90" x2="384.30" y2="94.90" stroke="#666" stroke-width="0.8" />
<line x1="382.50" y1="76.70" x2="384.30" y2="76.70" stroke="#666" stroke-width="0.8" />
<line x1="382.50" y1="58.50" x2="384.30" y2="58.50" stroke="#666" stroke-width="0.8" />
<line x1="382.50" y1="40.30" x2="384.30" y2="40.30" stroke="#666" stroke-width="0.8" />
<line x1="393.20" y1="129.30" x2="393.20" y2="131.80" stroke="#666" stroke-width="1" />
<text x="392.90" y="144.40" font-size="14.2" font-family="Liberation Serif" font-weight="normal" text-anchor="middle" fill="#111" stroke="#111" stroke-width="0.25" textLength="6.75" lengthAdjust="spacingAndGlyphs" >0</text>
<line x1="410.65" y1="129.30" x2="410.65" y2="131.80" stroke="#666" stroke-width="1" />
<text x="410.35" y="144.40" font-size="14.2" font-family="Liberation Serif" font-weight="normal" text-anchor="middle" fill="#111" stroke="#111" stroke-width="0.25" textLength="13.50" lengthAdjust="spacingAndGlyphs" >20</text>
<line x1="428.10" y1="129.30" x2="428.10" y2="131.80" stroke="#666" stroke-width="1" />
<text x="427.80" y="144.40" font-size="14.2" font-family="Liberation Serif" font-weight="normal" text-anchor="middle" fill="#111" stroke="#111" stroke-width="0.25" textLength="13.50" lengthAdjust="spacingAndGlyphs" >40</text>
<line x1="445.55" y1="129.30" x2="445.55" y2="131.80" stroke="#666" stroke-width="1" />
<text x="445.25" y="144.40" font-size="14.2" font-family="Liberation Serif" font-weight="normal" text-anchor="middle" fill="#111" stroke="#111" stroke-width="0.25" textLength="13.50" lengthAdjust="spacingAndGlyphs" >60</text>
<line x1="463.00" y1="129.30" x2="463.00" y2="131.80" stroke="#666" stroke-width="1" />
<text x="462.70" y="144.40" font-size="14.2" font-family="Liberation Serif" font-weight="normal" text-anchor="middle" fill="#111" stroke="#111" stroke-width="0.25" textLength="13.50" lengthAdjust="spacingAndGlyphs" >80</text>
<line x1="480.45" y1="129.30" x2="480.45" y2="131.80" stroke="#666" stroke-width="1" />
<text x="480.15" y="144.40" font-size="14.2" font-family="Liberation Serif" font-weight="normal" text-anchor="middle" fill="#111" stroke="#111" stroke-width="0.25" textLength="20.25" lengthAdjust="spacingAndGlyphs" >100</text>
<line x1="497.90" y1="129.30" x2="497.90" y2="131.80" stroke="#666" stroke-width="1" />
<text x="497.60" y="144.40" font-size="14.2" font-family="Liberation Serif" font-weight="normal" text-anchor="middle" fill="#111" stroke="#111" stroke-width="0.25" textLength="20.25" lengthAdjust="spacingAndGlyphs" >120</text>
<line x1="401.93" y1="129.30" x2="401.93" y2="130.90" stroke="#666" stroke-width="0.8" />
<line x1="419.38" y1="129.30" x2="419.38" y2="130.90" stroke="#666" stroke-width="0.8" />
<line x1="436.82" y1="129.30" x2="436.82" y2="130.90" stroke="#666" stroke-width="0.8" />
<line x1="454.27" y1="129.30" x2="454.27" y2="130.90" stroke="#666" stroke-width="0.8" />
<line x1="471.73" y1="129.30" x2="471.73" y2="130.90" stroke="#666" stroke-width="0.8" />
<line x1="489.18" y1="129.30" x2="489.18" y2="130.90" stroke="#666" stroke-width="0.8" />
<g transform="translate(359.60,133.85) rotate(-90) scale(1.0785,1)"><text x="0" y="0" font-size="13.1" font-family="Liberation Serif" fill="#111" stroke="#111" stroke-width="0.25">Tumor size (mm<tspan dy="-7.9" font-size="8.0">2</tspan><tspan dy="7.9">)</tspan></text></g>
<text x="375.40" y="154.50" font-size="12.4" font-family="Liberation Serif" font-weight="normal" text-anchor="start" fill="#111" stroke="#111" stroke-width="0.25" textLength="141.60" lengthAdjust="spacingAndGlyphs" >Days after tumor inoculation</text>
<polyline points="393.20,122.20 397.56,122.20 405.41,118.56 419.38,111.28 445.55,104.73 480.45,84.34 497.90,77.79" fill="none" stroke="#222" stroke-width="0.9" stroke-linejoin="round"/>
<polyline points="393.20,122.20 397.56,122.20 405.41,118.20 419.38,110.55 445.55,101.45 480.45,80.70 497.90,75.97" fill="none" stroke="#222" stroke-width="0.9" stroke-linejoin="round"/>
<rect x="390.40" y="119.40" width="5.60" height="5.60" fill="#fff" stroke="#333" stroke-width="1.0"/>
<rect x="394.76" y="119.40" width="5.60" height="5.60" fill="#fff" stroke="#333" stroke-width="1.0"/>
<rect x="402.61" y="115.76" width="5.60" height="5.60" fill="#fff" stroke="#333" stroke-width="1.0"/>
<rect x="416.57" y="108.48" width="5.60" height="5.60" fill="#fff" stroke="#333" stroke-width="1.0"/>
<rect x="442.75" y="101.93" width="5.60" height="5.60" fill="#fff" stroke="#333" stroke-width="1.0"/>
<rect x="477.65" y="81.54" width="5.60" height="5.60" fill="#fff" stroke="#333" stroke-width="1.0"/>
<rect x="495.10" y="74.99" width="5.60" height="5.60" fill="#fff" stroke="#333" stroke-width="1.0"/>
<rect x="389.90" y="118.90" width="6.60" height="6.60" fill="#111"/>
<rect x="394.26" y="118.90" width="6.60" height="6.60" fill="#111"/>
<rect x="402.11" y="114.90" width="6.60" height="6.60" fill="#111"/>
<rect x="416.07" y="107.25" width="6.60" height="6.60" fill="#111"/>
<rect x="442.25" y="98.15" width="6.60" height="6.60" fill="#111"/>
<rect x="477.15" y="77.40" width="6.60" height="6.60" fill="#111"/>
<rect x="494.60" y="72.67" width="6.60" height="6.60" fill="#111"/>
<line x1="386.20" y1="40.65" x2="407.90" y2="40.65" stroke="#333" stroke-width="1.0" />
<rect x="394.15" y="37.80" width="5.70" height="5.70" fill="#fff" stroke="#333" stroke-width="1.0"/>
<text x="410.60" y="44.80" font-size="10" font-family="Liberation Serif" font-weight="normal" text-anchor="start" fill="#111" stroke="#111" stroke-width="0.12" textLength="103.40" lengthAdjust="spacingAndGlyphs" >A20-CD20-rejecting mice</text>
<line x1="386.20" y1="53.85" x2="407.90" y2="53.85" stroke="#333" stroke-width="1.0" />
<rect x="393.65" y="50.50" width="6.70" height="6.70" fill="#111"/>
<text x="410.60" y="57.10" font-size="10" font-family="Liberation Serif" font-weight="normal" text-anchor="start" fill="#111" stroke="#111" stroke-width="0.12" textLength="45.20" lengthAdjust="spacingAndGlyphs" >Naive mice</text>
<line x1="46.40" y1="209.20" x2="46.40" y2="306.40" stroke="#666" stroke-width="1.2" />
<line x1="45.80" y1="305.90" x2="170.60" y2="305.90" stroke="#666" stroke-width="1.2" />
<line x1="43.60" y1="299.60" x2="46.40" y2="299.60" stroke="#666" stroke-width="1" />
<text x="43.60" y="303.88" font-size="14" font-family="Liberation Serif" font-weight="normal" text-anchor="end" fill="#111" stroke="#111" stroke-width="0.25" textLength="6.50" lengthAdjust="spacingAndGlyphs" >0</text>
<line x1="43.60" y1="286.74" x2="46.40" y2="286.74" stroke="#666" stroke-width="1" />
<text x="43.60" y="291.02" font-size="14" font-family="Liberation Serif" font-weight="normal" text-anchor="end" fill="#111" stroke="#111" stroke-width="0.25" textLength="13.00" lengthAdjust="spacingAndGlyphs" >10</text>
<line x1="43.60" y1="273.89" x2="46.40" y2="273.89" stroke="#666" stroke-width="1" />
<text x="43.60" y="278.16" font-size="14" font-family="Liberation Serif" font-weight="normal" text-anchor="end" fill="#111" stroke="#111" stroke-width="0.25" textLength="13.00" lengthAdjust="spacingAndGlyphs" >20</text>
<line x1="43.60" y1="261.03" x2="46.40" y2="261.03" stroke="#666" stroke-width="1" />
<text x="43.60" y="265.31" font-size="14" font-family="Liberation Serif" font-weight="normal" text-anchor="end" fill="#111" stroke="#111" stroke-width="0.25" textLength="13.00" lengthAdjust="spacingAndGlyphs" >30</text>
<line x1="43.60" y1="248.17" x2="46.40" y2="248.17" stroke="#666" stroke-width="1" />
<text x="43.60" y="252.45" font-size="14" font-family="Liberation Serif" font-weight="normal" text-anchor="end" fill="#111" stroke="#111" stroke-width="0.25" textLength="13.00" lengthAdjust="spacingAndGlyphs" >40</text>
<line x1="43.60" y1="235.32" x2="46.40" y2="235.32" stroke="#666" stroke-width="1" />
<text x="43.60" y="239.59" font-size="14" font-family="Liberation Serif" font-weight="normal" text-anchor="end" fill="#111" stroke="#111" stroke-width="0.25" textLength="13.00" lengthAdjust="spacingAndGlyphs" >50</text>
<line x1="43.60" y1="222.46" x2="46.40" y2="222.46" stroke="#666" stroke-width="1" />
<text x="43.60" y="226.73" font-size="14" font-family="Liberation Serif" font-weight="normal" text-anchor="end" fill="#111" stroke="#111" stroke-width="0.25" textLength="13.00" lengthAdjust="spacingAndGlyphs" >60</text>
<line x1="43.60" y1="209.60" x2="46.40" y2="209.60" stroke="#666" stroke-width="1" />
<text x="43.60" y="213.88" font-size="14" font-family="Liberation Serif" font-weight="normal" text-anchor="end" fill="#111" stroke="#111" stroke-width="0.25" textLength="13.00" lengthAdjust="spacingAndGlyphs" >70</text>
<line x1="44.60" y1="293.17" x2="46.40" y2="293.17" stroke="#666" stroke-width="0.8" />
<line x1="44.60" y1="280.31" x2="46.40" y2="280.31" stroke="#666" stroke-width="0.8" />
<line x1="44.60" y1="267.46" x2="46.40" y2="267.46" stroke="#666" stroke-width="0.8" />
<line x1="44.60" y1="254.60" x2="46.40" y2="254.60" stroke="#666" stroke-width="0.8" />
<line x1="44.60" y1="241.74" x2="46.40" y2="241.74" stroke="#666" stroke-width="0.8" />
<line x1="44.60" y1="228.89" x2="46.40" y2="228.89" stroke="#666" stroke-width="0.8" />
<line x1="44.60" y1="216.03" x2="46.40" y2="216.03" stroke="#666" stroke-width="0.8" />
<line x1="55.50" y1="305.90" x2="55.50" y2="308.40" stroke="#666" stroke-width="1" />
<text x="55.50" y="319.05" font-size="13.5" font-family="Liberation Serif" font-weight="normal" text-anchor="middle" fill="#111" stroke="#111" stroke-width="0.25" textLength="6.50" lengthAdjust="spacingAndGlyphs" >0</text>
<line x1="73.60" y1="305.90" x2="73.60" y2="308.40" stroke="#666" stroke-width="1" />
<text x="73.60" y="319.05" font-size="13.5" font-family="Liberation Serif" font-weight="normal" text-anchor="middle" fill="#111" stroke="#111" stroke-width="0.25" textLength="6.50" lengthAdjust="spacingAndGlyphs" >5</text>
<line x1="91.70" y1="305.90" x2="91.70" y2="308.40" stroke="#666" stroke-width="1" />
<text x="91.70" y="319.05" font-size="13.5" font-family="Liberation Serif" font-weight="normal" text-anchor="middle" fill="#111" stroke="#111" stroke-width="0.25" textLength="13.00" lengthAdjust="spacingAndGlyphs" >10</text>
<line x1="109.80" y1="305.90" x2="109.80" y2="308.40" stroke="#666" stroke-width="1" />
<text x="109.80" y="319.05" font-size="13.5" font-family="Liberation Serif" font-weight="normal" text-anchor="middle" fill="#111" stroke="#111" stroke-width="0.25" textLength="13.00" lengthAdjust="spacingAndGlyphs" >15</text>
<line x1="127.90" y1="305.90" x2="127.90" y2="308.40" stroke="#666" stroke-width="1" />
<text x="127.90" y="319.05" font-size="13.5" font-family="Liberation Serif" font-weight="normal" text-anchor="middle" fill="#111" stroke="#111" stroke-width="0.25" textLength="13.00" lengthAdjust="spacingAndGlyphs" >20</text>
<line x1="146.00" y1="305.90" x2="146.00" y2="308.40" stroke="#666" stroke-width="1" />
<text x="146.00" y="319.05" font-size="13.5" font-family="Liberation Serif" font-weight="normal" text-anchor="middle" fill="#111" stroke="#111" stroke-width="0.25" textLength="13.00" lengthAdjust="spacingAndGlyphs" >25</text>
<line x1="164.10" y1="305.90" x2="164.10" y2="308.40" stroke="#666" stroke-width="1" />
<text x="164.10" y="319.05" font-size="13.5" font-family="Liberation Serif" font-weight="normal" text-anchor="middle" fill="#111" stroke="#111" stroke-width="0.25" textLength="13.00" lengthAdjust="spacingAndGlyphs" >30</text>
<line x1="64.55" y1="305.90" x2="64.55" y2="307.50" stroke="#666" stroke-width="0.8" />
<line x1="82.65" y1="305.90" x2="82.65" y2="307.50" stroke="#666" stroke-width="0.8" />
<line x1="100.75" y1="305.90" x2="100.75" y2="307.50" stroke="#666" stroke-width="0.8" />
<line x1="118.85" y1="305.90" x2="118.85" y2="307.50" stroke="#666" stroke-width="0.8" />
<line x1="136.95" y1="305.90" x2="136.95" y2="307.50" stroke="#666" stroke-width="0.8" />
<line x1="155.05" y1="305.90" x2="155.05" y2="307.50" stroke="#666" stroke-width="0.8" />
<g transform="translate(26.50,308.25) rotate(-90) scale(1.0458,1)"><text x="0" y="0" font-size="13.1" font-family="Liberation Serif" fill="#111" stroke="#111" stroke-width="0.25">Tumor size (mm<tspan dy="-7.9" font-size="8.0">2</tspan><tspan dy="7.9">)</tspan></text></g>
<text x="39.00" y="330.30" font-size="12" font-family="Liberation Serif" font-weight="normal" text-anchor="start" fill="#111" stroke="#111" stroke-width="0.25" textLength="142.60" lengthAdjust="spacingAndGlyphs" >Days after tumor treatment</text>
<polyline points="55.50,299.60 73.60,285.97 91.70,282.50 109.80,278.00 127.90,269.39 146.00,263.99 164.10,256.53" fill="none" stroke="#222" stroke-width="0.9" stroke-linejoin="round"/>
<polyline points="55.50,299.60 73.60,285.97 91.70,276.84 109.80,271.31 127.90,268.10 146.00,258.97 164.10,248.81" fill="none" stroke="#222" stroke-width="0.9" stroke-linejoin="round"/>
<polyline points="55.50,299.60 73.60,299.60 91.70,299.60 109.80,297.29 127.90,294.33 146.00,293.81 164.10,291.89" fill="none" stroke="#222" stroke-width="0.9" stroke-linejoin="round"/>
<polyline points="55.50,299.60 73.60,299.60 91.70,299.60 109.80,293.30 127.90,291.37 146.00,290.34 164.10,288.29" fill="none" stroke="#222" stroke-width="0.9" stroke-linejoin="round"/>
<line x1="55.50" y1="295.60" x2="55.50" y2="299.60" stroke="#222" stroke-width="0.9" />
<line x1="54.20" y1="295.60" x2="56.80" y2="295.60" stroke="#222" stroke-width="0.9" />
<line x1="55.50" y1="299.60" x2="55.50" y2="303.60" stroke="#222" stroke-width="0.9" />
<line x1="54.20" y1="303.60" x2="56.80" y2="303.60" stroke="#222" stroke-width="0.9" />
<rect x="52.60" y="296.70" width="5.80" height="5.80" fill="#fff" stroke="#333" stroke-width="1.0"/>
<line x1="73.60" y1="281.97" x2="73.60" y2="285.97" stroke="#222" stroke-width="0.9" />
<line x1="72.30" y1="281.97" x2="74.90" y2="281.97" stroke="#222" stroke-width="0.9" />
<line x1="73.60" y1="285.97" x2="73.60" y2="289.97" stroke="#222" stroke-width="0.9" />
<line x1="72.30" y1="289.97" x2="74.90" y2="289.97" stroke="#222" stroke-width="0.9" />
<rect x="70.70" y="283.07" width="5.80" height="5.80" fill="#fff" stroke="#333" stroke-width="1.0"/>
<line x1="91.70" y1="278.50" x2="91.70" y2="282.50" stroke="#222" stroke-width="0.9" />
<line x1="90.40" y1="278.50" x2="93.00" y2="278.50" stroke="#222" stroke-width="0.9" />
<line x1="91.70" y1="282.50" x2="91.70" y2="286.50" stroke="#222" stroke-width="0.9" />
<line x1="90.40" y1="286.50" x2="93.00" y2="286.50" stroke="#222" stroke-width="0.9" />
<rect x="88.80" y="279.60" width="5.80" height="5.80" fill="#fff" stroke="#333" stroke-width="1.0"/>
<line x1="109.80" y1="274.00" x2="109.80" y2="278.00" stroke="#222" stroke-width="0.9" />
<line x1="108.50" y1="274.00" x2="111.10" y2="274.00" stroke="#222" stroke-width="0.9" />
<line x1="109.80" y1="278.00" x2="109.80" y2="282.00" stroke="#222" stroke-width="0.9" />
<line x1="108.50" y1="282.00" x2="111.10" y2="282.00" stroke="#222" stroke-width="0.9" />
<rect x="106.90" y="275.10" width="5.80" height="5.80" fill="#fff" stroke="#333" stroke-width="1.0"/>
<line x1="127.90" y1="265.39" x2="127.90" y2="269.39" stroke="#222" stroke-width="0.9" />
<line x1="126.60" y1="265.39" x2="129.20" y2="265.39" stroke="#222" stroke-width="0.9" />
<line x1="127.90" y1="269.39" x2="127.90" y2="273.39" stroke="#222" stroke-width="0.9" />
<line x1="126.60" y1="273.39" x2="129.20" y2="273.39" stroke="#222" stroke-width="0.9" />
<rect x="125.00" y="266.49" width="5.80" height="5.80" fill="#fff" stroke="#333" stroke-width="1.0"/>
<line x1="146.00" y1="259.99" x2="146.00" y2="263.99" stroke="#222" stroke-width="0.9" />
<line x1="144.70" y1="259.99" x2="147.30" y2="259.99" stroke="#222" stroke-width="0.9" />
<line x1="146.00" y1="263.99" x2="146.00" y2="267.99" stroke="#222" stroke-width="0.9" />
<line x1="144.70" y1="267.99" x2="147.30" y2="267.99" stroke="#222" stroke-width="0.9" />
<rect x="143.10" y="261.09" width="5.80" height="5.80" fill="#fff" stroke="#333" stroke-width="1.0"/>
<line x1="164.10" y1="252.53" x2="164.10" y2="256.53" stroke="#222" stroke-width="0.9" />
<line x1="162.80" y1="252.53" x2="165.40" y2="252.53" stroke="#222" stroke-width="0.9" />
<line x1="164.10" y1="256.53" x2="164.10" y2="260.53" stroke="#222" stroke-width="0.9" />
<line x1="162.80" y1="260.53" x2="165.40" y2="260.53" stroke="#222" stroke-width="0.9" />
<rect x="161.20" y="253.63" width="5.80" height="5.80" fill="#fff" stroke="#333" stroke-width="1.0"/>
<line x1="55.50" y1="295.40" x2="55.50" y2="299.60" stroke="#222" stroke-width="0.9" />
<line x1="54.20" y1="295.40" x2="56.80" y2="295.40" stroke="#222" stroke-width="0.9" />
<line x1="55.50" y1="299.60" x2="55.50" y2="303.80" stroke="#222" stroke-width="0.9" />
<line x1="54.20" y1="303.80" x2="56.80" y2="303.80" stroke="#222" stroke-width="0.9" />
<circle cx="55.50" cy="299.60" r="3.05" fill="#fff" stroke="#222" stroke-width="1.1"/>
<line x1="73.60" y1="281.77" x2="73.60" y2="285.97" stroke="#222" stroke-width="0.9" />
<line x1="72.30" y1="281.77" x2="74.90" y2="281.77" stroke="#222" stroke-width="0.9" />
<line x1="73.60" y1="285.97" x2="73.60" y2="290.17" stroke="#222" stroke-width="0.9" />
<line x1="72.30" y1="290.17" x2="74.90" y2="290.17" stroke="#222" stroke-width="0.9" />
<circle cx="73.60" cy="285.97" r="3.05" fill="#fff" stroke="#222" stroke-width="1.1"/>
<line x1="91.70" y1="272.64" x2="91.70" y2="276.84" stroke="#222" stroke-width="0.9" />
<line x1="90.40" y1="272.64" x2="93.00" y2="272.64" stroke="#222" stroke-width="0.9" />
<line x1="91.70" y1="276.84" x2="91.70" y2="281.04" stroke="#222" stroke-width="0.9" />
<line x1="90.40" y1="281.04" x2="93.00" y2="281.04" stroke="#222" stroke-width="0.9" />
<circle cx="91.70" cy="276.84" r="3.05" fill="#fff" stroke="#222" stroke-width="1.1"/>
<line x1="109.80" y1="267.11" x2="109.80" y2="271.31" stroke="#222" stroke-width="0.9" />
<line x1="108.50" y1="267.11" x2="111.10" y2="267.11" stroke="#222" stroke-width="0.9" />
<line x1="109.80" y1="271.31" x2="109.80" y2="275.51" stroke="#222" stroke-width="0.9" />
<line x1="108.50" y1="275.51" x2="111.10" y2="275.51" stroke="#222" stroke-width="0.9" />
<circle cx="109.80" cy="271.31" r="3.05" fill="#fff" stroke="#222" stroke-width="1.1"/>
<line x1="127.90" y1="263.90" x2="127.90" y2="268.10" stroke="#222" stroke-width="0.9" />
<line x1="126.60" y1="263.90" x2="129.20" y2="263.90" stroke="#222" stroke-width="0.9" />
<line x1="127.90" y1="268.10" x2="127.90" y2="272.30" stroke="#222" stroke-width="0.9" />
<line x1="126.60" y1="272.30" x2="129.20" y2="272.30" stroke="#222" stroke-width="0.9" />
<circle cx="127.90" cy="268.10" r="3.05" fill="#fff" stroke="#222" stroke-width="1.1"/>
<line x1="146.00" y1="254.77" x2="146.00" y2="258.97" stroke="#222" stroke-width="0.9" />
<line x1="144.70" y1="254.77" x2="147.30" y2="254.77" stroke="#222" stroke-width="0.9" />
<line x1="146.00" y1="258.97" x2="146.00" y2="263.17" stroke="#222" stroke-width="0.9" />
<line x1="144.70" y1="263.17" x2="147.30" y2="263.17" stroke="#222" stroke-width="0.9" />
<circle cx="146.00" cy="258.97" r="3.05" fill="#fff" stroke="#222" stroke-width="1.1"/>
<line x1="164.10" y1="244.61" x2="164.10" y2="248.81" stroke="#222" stroke-width="0.9" />
<line x1="162.80" y1="244.61" x2="165.40" y2="244.61" stroke="#222" stroke-width="0.9" />
<line x1="164.10" y1="248.81" x2="164.10" y2="253.01" stroke="#222" stroke-width="0.9" />
<line x1="162.80" y1="253.01" x2="165.40" y2="253.01" stroke="#222" stroke-width="0.9" />
<circle cx="164.10" cy="248.81" r="3.05" fill="#fff" stroke="#222" stroke-width="1.1"/>
<circle cx="55.50" cy="299.60" r="3.70" fill="#111"/>
<circle cx="73.60" cy="299.60" r="3.70" fill="#111"/>
<circle cx="91.70" cy="299.60" r="3.70" fill="#111"/>
<line x1="109.80" y1="293.69" x2="109.80" y2="297.29" stroke="#222" stroke-width="0.9" />
<line x1="108.50" y1="293.69" x2="111.10" y2="293.69" stroke="#222" stroke-width="0.9" />
<line x1="109.80" y1="297.29" x2="109.80" y2="300.89" stroke="#222" stroke-width="0.9" />
<line x1="108.50" y1="300.89" x2="111.10" y2="300.89" stroke="#222" stroke-width="0.9" />
<circle cx="109.80" cy="297.29" r="3.70" fill="#111"/>
<line x1="127.90" y1="290.73" x2="127.90" y2="294.33" stroke="#222" stroke-width="0.9" />
<line x1="126.60" y1="290.73" x2="129.20" y2="290.73" stroke="#222" stroke-width="0.9" />
<line x1="127.90" y1="294.33" x2="127.90" y2="297.93" stroke="#222" stroke-width="0.9" />
<line x1="126.60" y1="297.93" x2="129.20" y2="297.93" stroke="#222" stroke-width="0.9" />
<circle cx="127.90" cy="294.33" r="3.70" fill="#111"/>
<line x1="146.00" y1="290.21" x2="146.00" y2="293.81" stroke="#222" stroke-width="0.9" />
<line x1="144.70" y1="290.21" x2="147.30" y2="290.21" stroke="#222" stroke-width="0.9" />
<line x1="146.00" y1="293.81" x2="146.00" y2="297.41" stroke="#222" stroke-width="0.9" />
<line x1="144.70" y1="297.41" x2="147.30" y2="297.41" stroke="#222" stroke-width="0.9" />
<circle cx="146.00" cy="293.81" r="3.70" fill="#111"/>
<line x1="164.10" y1="288.29" x2="164.10" y2="291.89" stroke="#222" stroke-width="0.9" />
<line x1="162.80" y1="288.29" x2="165.40" y2="288.29" stroke="#222" stroke-width="0.9" />
<line x1="164.10" y1="291.89" x2="164.10" y2="295.49" stroke="#222" stroke-width="0.9" />
<line x1="162.80" y1="295.49" x2="165.40" y2="295.49" stroke="#222" stroke-width="0.9" />
<circle cx="164.10" cy="291.89" r="3.70" fill="#111"/>
<path d="M51.30,296.45 L59.70,296.45 L55.50,303.59Z" fill="#111"/>
<path d="M69.40,296.45 L77.80,296.45 L73.60,303.59Z" fill="#111"/>
<path d="M87.50,296.45 L95.90,296.45 L91.70,303.59Z" fill="#111"/>
<line x1="109.80" y1="289.70" x2="109.80" y2="293.30" stroke="#222" stroke-width="0.9" />
<line x1="108.50" y1="289.70" x2="111.10" y2="289.70" stroke="#222" stroke-width="0.9" />
<line x1="109.80" y1="293.30" x2="109.80" y2="296.90" stroke="#222" stroke-width="0.9" />
<line x1="108.50" y1="296.90" x2="111.10" y2="296.90" stroke="#222" stroke-width="0.9" />
<path d="M105.60,290.15 L114.00,290.15 L109.80,297.29Z" fill="#111"/>
<line x1="127.90" y1="287.77" x2="127.90" y2="291.37" stroke="#222" stroke-width="0.9" />
<line x1="126.60" y1="287.77" x2="129.20" y2="287.77" stroke="#222" stroke-width="0.9" />
<line x1="127.90" y1="291.37" x2="127.90" y2="294.97" stroke="#222" stroke-width="0.9" />
<line x1="126.60" y1="294.97" x2="129.20" y2="294.97" stroke="#222" stroke-width="0.9" />
<path d="M123.70,288.22 L132.10,288.22 L127.90,295.36Z" fill="#111"/>
<line x1="146.00" y1="286.74" x2="146.00" y2="290.34" stroke="#222" stroke-width="0.9" />
<line x1="144.70" y1="286.74" x2="147.30" y2="286.74" stroke="#222" stroke-width="0.9" />
<line x1="146.00" y1="290.34" x2="146.00" y2="293.94" stroke="#222" stroke-width="0.9" />
<line x1="144.70" y1="293.94" x2="147.30" y2="293.94" stroke="#222" stroke-width="0.9" />
<path d="M141.80,287.19 L150.20,287.19 L146.00,294.33Z" fill="#111"/>
<line x1="164.10" y1="284.69" x2="164.10" y2="288.29" stroke="#222" stroke-width="0.9" />
<line x1="162.80" y1="284.69" x2="165.40" y2="284.69" stroke="#222" stroke-width="0.9" />
<line x1="164.10" y1="288.29" x2="164.10" y2="291.89" stroke="#222" stroke-width="0.9" />
<line x1="162.80" y1="291.89" x2="165.40" y2="291.89" stroke="#222" stroke-width="0.9" />
<path d="M159.90,285.14 L168.30,285.14 L164.10,292.28Z" fill="#111"/>
<rect x="52.20" y="296.80" width="6.60" height="5.61" rx="0.4" fill="#111"/>
<rect x="70.30" y="296.80" width="6.60" height="5.61" rx="0.4" fill="#111"/>
<rect x="88.40" y="296.80" width="6.60" height="5.61" rx="0.4" fill="#111"/>
<rect x="106.60" y="289.58" width="6.40" height="5.44" rx="0.4" fill="#111"/>
<rect x="124.70" y="287.65" width="6.40" height="5.44" rx="0.4" fill="#111"/>
<rect x="142.80" y="286.62" width="6.40" height="5.44" rx="0.4" fill="#111"/>
<rect x="160.90" y="284.57" width="6.40" height="5.44" rx="0.4" fill="#111"/>
<line x1="48.00" y1="207.50" x2="65.70" y2="207.50" stroke="#333" stroke-width="1.0" />
<rect x="54.30" y="204.80" width="5.40" height="5.40" fill="#fff" stroke="#333" stroke-width="1.0"/>
<text x="67.60" y="209.80" font-size="8" font-family="Liberation Serif" font-weight="normal" text-anchor="start" fill="#111" stroke="#111" stroke-width="0.12" textLength="46.80" lengthAdjust="spacingAndGlyphs" >Naive BALB/c</text>
<line x1="48.00" y1="217.40" x2="65.70" y2="217.40" stroke="#333" stroke-width="1.0" />
<circle cx="57.00" cy="217.40" r="2.95" fill="#fff" stroke="#222" stroke-width="1.1"/>
<text x="67.60" y="219.20" font-size="8" font-family="Liberation Serif" font-weight="normal" text-anchor="start" fill="#111" stroke="#111" stroke-width="0.12" textLength="38.00" lengthAdjust="spacingAndGlyphs" >Naive SCID</text>
<line x1="48.00" y1="226.50" x2="65.70" y2="226.50" stroke="#333" stroke-width="1.0" />
<circle cx="57.00" cy="226.50" r="3.80" fill="#111"/>
<text x="67.60" y="229.00" font-size="8" font-family="Liberation Serif" font-weight="normal" text-anchor="start" fill="#111" stroke="#111" stroke-width="0.12" textLength="67.60" lengthAdjust="spacingAndGlyphs" >BiFP-treated BALB/c</text>
<line x1="48.00" y1="236.00" x2="65.70" y2="236.00" stroke="#333" stroke-width="1.0" />
<path d="M52.70,232.78 L61.30,232.78 L57.00,240.09Z" fill="#111"/>
<text x="67.60" y="237.90" font-size="8" font-family="Liberation Serif" font-weight="normal" text-anchor="start" fill="#111" stroke="#111" stroke-width="0.12" textLength="58.80" lengthAdjust="spacingAndGlyphs" >BiFP-treated SCID</text>
<line x1="215.30" y1="202.10" x2="215.30" y2="305.20" stroke="#666" stroke-width="1.2" />
<line x1="214.70" y1="304.70" x2="352.90" y2="304.70" stroke="#666" stroke-width="1.2" />
<line x1="212.50" y1="297.10" x2="215.30" y2="297.10" stroke="#666" stroke-width="1" />
<text x="211.80" y="302.19" font-size="15" font-family="Liberation Serif" font-weight="normal" text-anchor="end" fill="#111" stroke="#111" stroke-width="0.25" >0</text>
<line x1="212.50" y1="277.12" x2="215.30" y2="277.12" stroke="#666" stroke-width="1" />
<text x="211.80" y="282.21" font-size="15" font-family="Liberation Serif" font-weight="normal" text-anchor="end" fill="#111" stroke="#111" stroke-width="0.25" >50</text>
<line x1="212.50" y1="257.15" x2="215.30" y2="257.15" stroke="#666" stroke-width="1" />
<text x="211.80" y="262.24" font-size="15" font-family="Liberation Serif" font-weight="normal" text-anchor="end" fill="#111" stroke="#111" stroke-width="0.25" >100</text>
<line x1="212.50" y1="237.18" x2="215.30" y2="237.18" stroke="#666" stroke-width="1" />
<text x="211.80" y="242.26" font-size="15" font-family="Liberation Serif" font-weight="normal" text-anchor="end" fill="#111" stroke="#111" stroke-width="0.25" >150</text>
<line x1="212.50" y1="217.20" x2="215.30" y2="217.20" stroke="#666" stroke-width="1" />
<text x="211.80" y="222.28" font-size="15" font-family="Liberation Serif" font-weight="normal" text-anchor="end" fill="#111" stroke="#111" stroke-width="0.25" >200</text>
<line x1="213.50" y1="287.11" x2="215.30" y2="287.11" stroke="#666" stroke-width="0.8" />
<line x1="213.50" y1="267.14" x2="215.30" y2="267.14" stroke="#666" stroke-width="0.8" />
<line x1="213.50" y1="247.16" x2="215.30" y2="247.16" stroke="#666" stroke-width="0.8" />
<line x1="213.50" y1="227.19" x2="215.30" y2="227.19" stroke="#666" stroke-width="0.8" />
<line x1="213.50" y1="207.21" x2="215.30" y2="207.21" stroke="#666" stroke-width="0.8" />
<line x1="225.50" y1="304.70" x2="225.50" y2="307.20" stroke="#666" stroke-width="1" />
<text x="225.50" y="320.88" font-size="15" font-family="Liberation Serif" font-weight="normal" text-anchor="middle" fill="#111" stroke="#111" stroke-width="0.25" >0</text>
<line x1="245.50" y1="304.70" x2="245.50" y2="307.20" stroke="#666" stroke-width="1" />
<text x="245.50" y="320.88" font-size="15" font-family="Liberation Serif" font-weight="normal" text-anchor="middle" fill="#111" stroke="#111" stroke-width="0.25" >20</text>
<line x1="265.50" y1="304.70" x2="265.50" y2="307.20" stroke="#666" stroke-width="1" />
<text x="265.50" y="320.88" font-size="15" font-family="Liberation Serif" font-weight="normal" text-anchor="middle" fill="#111" stroke="#111" stroke-width="0.25" >40</text>
<line x1="285.50" y1="304.70" x2="285.50" y2="307.20" stroke="#666" stroke-width="1" />
<text x="285.50" y="320.88" font-size="15" font-family="Liberation Serif" font-weight="normal" text-anchor="middle" fill="#111" stroke="#111" stroke-width="0.25" >60</text>
<line x1="305.50" y1="304.70" x2="305.50" y2="307.20" stroke="#666" stroke-width="1" />
<text x="305.50" y="320.88" font-size="15" font-family="Liberation Serif" font-weight="normal" text-anchor="middle" fill="#111" stroke="#111" stroke-width="0.25" >80</text>
<line x1="325.50" y1="304.70" x2="325.50" y2="307.20" stroke="#666" stroke-width="1" />
<text x="325.50" y="320.88" font-size="15" font-family="Liberation Serif" font-weight="normal" text-anchor="middle" fill="#111" stroke="#111" stroke-width="0.25" >100</text>
<line x1="345.50" y1="304.70" x2="345.50" y2="307.20" stroke="#666" stroke-width="1" />
<text x="345.50" y="320.88" font-size="15" font-family="Liberation Serif" font-weight="normal" text-anchor="middle" fill="#111" stroke="#111" stroke-width="0.25" >120</text>
<line x1="235.50" y1="304.70" x2="235.50" y2="306.30" stroke="#666" stroke-width="0.8" />
<line x1="255.50" y1="304.70" x2="255.50" y2="306.30" stroke="#666" stroke-width="0.8" />
<line x1="275.50" y1="304.70" x2="275.50" y2="306.30" stroke="#666" stroke-width="0.8" />
<line x1="295.50" y1="304.70" x2="295.50" y2="306.30" stroke="#666" stroke-width="0.8" />
<line x1="315.50" y1="304.70" x2="315.50" y2="306.30" stroke="#666" stroke-width="0.8" />
<line x1="335.50" y1="304.70" x2="335.50" y2="306.30" stroke="#666" stroke-width="0.8" />
<g transform="translate(186.40,308.75) rotate(-90) scale(1.1578,1)"><text x="0" y="0" font-size="13.1" font-family="Liberation Serif" fill="#111" stroke="#111" stroke-width="0.25">Tumor size (mm<tspan dy="-7.9" font-size="8.0">2</tspan><tspan dy="7.9">)</tspan></text></g>
<text x="205.40" y="331.00" font-size="13.3" font-family="Liberation Serif" font-weight="normal" text-anchor="start" fill="#111" stroke="#111" stroke-width="0.25" textLength="162.20" lengthAdjust="spacingAndGlyphs" >Days after tumor inoculation</text>
<polyline points="225.50,297.10 230.50,295.10 239.50,288.31 255.50,285.12 285.50,272.33 325.50,251.56 345.50,242.77" fill="none" stroke="#222" stroke-width="0.9" stroke-linejoin="round"/>
<polyline points="225.50,297.10 230.50,294.30 239.50,287.11 255.50,279.12 285.50,264.34 325.50,251.56 345.50,245.96" fill="none" stroke="#222" stroke-width="0.9" stroke-linejoin="round"/>
<polyline points="225.50,297.10 230.50,295.90 239.50,295.50 255.50,295.50 285.50,295.50 325.50,294.30 345.50,293.11" fill="none" stroke="#222" stroke-width="0.9" stroke-linejoin="round"/>
<polyline points="225.50,297.10 230.50,294.70 239.50,288.31 255.50,281.12 285.50,269.93 325.50,254.75 345.50,247.96" fill="none" stroke="#222" stroke-width="0.9" stroke-linejoin="round"/>
<line x1="225.50" y1="293.10" x2="225.50" y2="297.10" stroke="#222" stroke-width="0.9" />
<line x1="224.20" y1="293.10" x2="226.80" y2="293.10" stroke="#222" stroke-width="0.9" />
<line x1="225.50" y1="297.10" x2="225.50" y2="301.10" stroke="#222" stroke-width="0.9" />
<line x1="224.20" y1="301.10" x2="226.80" y2="301.10" stroke="#222" stroke-width="0.9" />
<rect x="222.50" y="294.10" width="6.00" height="6.00" fill="#fff" stroke="#333" stroke-width="1.0"/>
<line x1="230.50" y1="291.10" x2="230.50" y2="295.10" stroke="#222" stroke-width="0.9" />
<line x1="229.20" y1="291.10" x2="231.80" y2="291.10" stroke="#222" stroke-width="0.9" />
<line x1="230.50" y1="295.10" x2="230.50" y2="299.10" stroke="#222" stroke-width="0.9" />
<line x1="229.20" y1="299.10" x2="231.80" y2="299.10" stroke="#222" stroke-width="0.9" />
<rect x="227.50" y="292.10" width="6.00" height="6.00" fill="#fff" stroke="#333" stroke-width="1.0"/>
<line x1="239.50" y1="284.31" x2="239.50" y2="288.31" stroke="#222" stroke-width="0.9" />
<line x1="238.20" y1="284.31" x2="240.80" y2="284.31" stroke="#222" stroke-width="0.9" />
<line x1="239.50" y1="288.31" x2="239.50" y2="292.31" stroke="#222" stroke-width="0.9" />
<line x1="238.20" y1="292.31" x2="240.80" y2="292.31" stroke="#222" stroke-width="0.9" />
<rect x="236.50" y="285.31" width="6.00" height="6.00" fill="#fff" stroke="#333" stroke-width="1.0"/>
<line x1="255.50" y1="281.12" x2="255.50" y2="285.12" stroke="#222" stroke-width="0.9" />
<line x1="254.20" y1="281.12" x2="256.80" y2="281.12" stroke="#222" stroke-width="0.9" />
<line x1="255.50" y1="285.12" x2="255.50" y2="289.12" stroke="#222" stroke-width="0.9" />
<line x1="254.20" y1="289.12" x2="256.80" y2="289.12" stroke="#222" stroke-width="0.9" />
<rect x="252.50" y="282.12" width="6.00" height="6.00" fill="#fff" stroke="#333" stroke-width="1.0"/>
<line x1="285.50" y1="268.33" x2="285.50" y2="272.33" stroke="#222" stroke-width="0.9" />
<line x1="284.20" y1="268.33" x2="286.80" y2="268.33" stroke="#222" stroke-width="0.9" />
<line x1="285.50" y1="272.33" x2="285.50" y2="276.33" stroke="#222" stroke-width="0.9" />
<line x1="284.20" y1="276.33" x2="286.80" y2="276.33" stroke="#222" stroke-width="0.9" />
<rect x="282.50" y="269.33" width="6.00" height="6.00" fill="#fff" stroke="#333" stroke-width="1.0"/>
<line x1="325.50" y1="247.56" x2="325.50" y2="251.56" stroke="#222" stroke-width="0.9" />
<line x1="324.20" y1="247.56" x2="326.80" y2="247.56" stroke="#222" stroke-width="0.9" />
<line x1="325.50" y1="251.56" x2="325.50" y2="255.56" stroke="#222" stroke-width="0.9" />
<line x1="324.20" y1="255.56" x2="326.80" y2="255.56" stroke="#222" stroke-width="0.9" />
<rect x="322.50" y="248.56" width="6.00" height="6.00" fill="#fff" stroke="#333" stroke-width="1.0"/>
<line x1="345.50" y1="238.77" x2="345.50" y2="242.77" stroke="#222" stroke-width="0.9" />
<line x1="344.20" y1="238.77" x2="346.80" y2="238.77" stroke="#222" stroke-width="0.9" />
<line x1="345.50" y1="242.77" x2="345.50" y2="246.77" stroke="#222" stroke-width="0.9" />
<line x1="344.20" y1="246.77" x2="346.80" y2="246.77" stroke="#222" stroke-width="0.9" />
<rect x="342.50" y="239.77" width="6.00" height="6.00" fill="#fff" stroke="#333" stroke-width="1.0"/>
<line x1="225.50" y1="293.10" x2="225.50" y2="297.10" stroke="#222" stroke-width="0.9" />
<line x1="224.20" y1="293.10" x2="226.80" y2="293.10" stroke="#222" stroke-width="0.9" />
<line x1="225.50" y1="297.10" x2="225.50" y2="301.10" stroke="#222" stroke-width="0.9" />
<line x1="224.20" y1="301.10" x2="226.80" y2="301.10" stroke="#222" stroke-width="0.9" />
<rect x="222.10" y="293.70" width="6.80" height="6.80" fill="#111"/>
<line x1="230.50" y1="290.30" x2="230.50" y2="294.30" stroke="#222" stroke-width="0.9" />
<line x1="229.20" y1="290.30" x2="231.80" y2="290.30" stroke="#222" stroke-width="0.9" />
<line x1="230.50" y1="294.30" x2="230.50" y2="298.30" stroke="#222" stroke-width="0.9" />
<line x1="229.20" y1="298.30" x2="231.80" y2="298.30" stroke="#222" stroke-width="0.9" />
<rect x="227.10" y="290.90" width="6.80" height="6.80" fill="#111"/>
<line x1="239.50" y1="283.11" x2="239.50" y2="287.11" stroke="#222" stroke-width="0.9" />
<line x1="238.20" y1="283.11" x2="240.80" y2="283.11" stroke="#222" stroke-width="0.9" />
<line x1="239.50" y1="287.11" x2="239.50" y2="291.11" stroke="#222" stroke-width="0.9" />
<line x1="238.20" y1="291.11" x2="240.80" y2="291.11" stroke="#222" stroke-width="0.9" />
<rect x="236.10" y="283.71" width="6.80" height="6.80" fill="#111"/>
<line x1="255.50" y1="275.12" x2="255.50" y2="279.12" stroke="#222" stroke-width="0.9" />
<line x1="254.20" y1="275.12" x2="256.80" y2="275.12" stroke="#222" stroke-width="0.9" />
<line x1="255.50" y1="279.12" x2="255.50" y2="283.12" stroke="#222" stroke-width="0.9" />
<line x1="254.20" y1="283.12" x2="256.80" y2="283.12" stroke="#222" stroke-width="0.9" />
<rect x="252.10" y="275.72" width="6.80" height="6.80" fill="#111"/>
<line x1="285.50" y1="260.34" x2="285.50" y2="264.34" stroke="#222" stroke-width="0.9" />
<line x1="284.20" y1="260.34" x2="286.80" y2="260.34" stroke="#222" stroke-width="0.9" />
<line x1="285.50" y1="264.34" x2="285.50" y2="268.34" stroke="#222" stroke-width="0.9" />
<line x1="284.20" y1="268.34" x2="286.80" y2="268.34" stroke="#222" stroke-width="0.9" />
<rect x="282.10" y="260.94" width="6.80" height="6.80" fill="#111"/>
<line x1="325.50" y1="247.56" x2="325.50" y2="251.56" stroke="#222" stroke-width="0.9" />
<line x1="324.20" y1="247.56" x2="326.80" y2="247.56" stroke="#222" stroke-width="0.9" />
<line x1="325.50" y1="251.56" x2="325.50" y2="255.56" stroke="#222" stroke-width="0.9" />
<line x1="324.20" y1="255.56" x2="326.80" y2="255.56" stroke="#222" stroke-width="0.9" />
<rect x="322.10" y="248.16" width="6.80" height="6.80" fill="#111"/>
<line x1="345.50" y1="241.96" x2="345.50" y2="245.96" stroke="#222" stroke-width="0.9" />
<line x1="344.20" y1="241.96" x2="346.80" y2="241.96" stroke="#222" stroke-width="0.9" />
<line x1="345.50" y1="245.96" x2="345.50" y2="249.96" stroke="#222" stroke-width="0.9" />
<line x1="344.20" y1="249.96" x2="346.80" y2="249.96" stroke="#222" stroke-width="0.9" />
<rect x="342.10" y="242.56" width="6.80" height="6.80" fill="#111"/>
<circle cx="225.50" cy="297.10" r="3.80" fill="#111"/>
<circle cx="230.50" cy="295.90" r="3.80" fill="#111"/>
<circle cx="239.50" cy="295.50" r="3.80" fill="#111"/>
<circle cx="255.50" cy="295.50" r="3.80" fill="#111"/>
<circle cx="285.50" cy="295.50" r="3.80" fill="#111"/>
<circle cx="325.50" cy="294.30" r="3.80" fill="#111"/>
<circle cx="345.50" cy="293.11" r="3.80" fill="#111"/>
<line x1="225.50" y1="293.10" x2="225.50" y2="297.10" stroke="#222" stroke-width="0.9" />
<line x1="224.20" y1="293.10" x2="226.80" y2="293.10" stroke="#222" stroke-width="0.9" />
<line x1="225.50" y1="297.10" x2="225.50" y2="301.10" stroke="#222" stroke-width="0.9" />
<line x1="224.20" y1="301.10" x2="226.80" y2="301.10" stroke="#222" stroke-width="0.9" />
<path d="M221.40,294.03 L229.60,294.03 L225.50,301.00Z" fill="#111"/>
<line x1="230.50" y1="290.70" x2="230.50" y2="294.70" stroke="#222" stroke-width="0.9" />
<line x1="229.20" y1="290.70" x2="231.80" y2="290.70" stroke="#222" stroke-width="0.9" />
<line x1="230.50" y1="294.70" x2="230.50" y2="298.70" stroke="#222" stroke-width="0.9" />
<line x1="229.20" y1="298.70" x2="231.80" y2="298.70" stroke="#222" stroke-width="0.9" />
<path d="M226.40,291.63 L234.60,291.63 L230.50,298.60Z" fill="#111"/>
<line x1="239.50" y1="284.31" x2="239.50" y2="288.31" stroke="#222" stroke-width="0.9" />
<line x1="238.20" y1="284.31" x2="240.80" y2="284.31" stroke="#222" stroke-width="0.9" />
<line x1="239.50" y1="288.31" x2="239.50" y2="292.31" stroke="#222" stroke-width="0.9" />
<line x1="238.20" y1="292.31" x2="240.80" y2="292.31" stroke="#222" stroke-width="0.9" />
<path d="M235.40,285.24 L243.60,285.24 L239.50,292.21Z" fill="#111"/>
<line x1="255.50" y1="277.12" x2="255.50" y2="281.12" stroke="#222" stroke-width="0.9" />
<line x1="254.20" y1="277.12" x2="256.80" y2="277.12" stroke="#222" stroke-width="0.9" />
<line x1="255.50" y1="281.12" x2="255.50" y2="285.12" stroke="#222" stroke-width="0.9" />
<line x1="254.20" y1="285.12" x2="256.80" y2="285.12" stroke="#222" stroke-width="0.9" />
<path d="M251.40,278.05 L259.60,278.05 L255.50,285.01Z" fill="#111"/>
<line x1="285.50" y1="265.93" x2="285.50" y2="269.93" stroke="#222" stroke-width="0.9" />
<line x1="284.20" y1="265.93" x2="286.80" y2="265.93" stroke="#222" stroke-width="0.9" />
<line x1="285.50" y1="269.93" x2="285.50" y2="273.93" stroke="#222" stroke-width="0.9" />
<line x1="284.20" y1="273.93" x2="286.80" y2="273.93" stroke="#222" stroke-width="0.9" />
<path d="M281.40,266.86 L289.60,266.86 L285.50,273.83Z" fill="#111"/>
<line x1="325.50" y1="250.75" x2="325.50" y2="254.75" stroke="#222" stroke-width="0.9" />
<line x1="324.20" y1="250.75" x2="326.80" y2="250.75" stroke="#222" stroke-width="0.9" />
<line x1="325.50" y1="254.75" x2="325.50" y2="258.75" stroke="#222" stroke-width="0.9" />
<line x1="324.20" y1="258.75" x2="326.80" y2="258.75" stroke="#222" stroke-width="0.9" />
<path d="M321.40,251.68 L329.60,251.68 L325.50,258.65Z" fill="#111"/>
<line x1="345.50" y1="243.96" x2="345.50" y2="247.96" stroke="#222" stroke-width="0.9" />
<line x1="344.20" y1="243.96" x2="346.80" y2="243.96" stroke="#222" stroke-width="0.9" />
<line x1="345.50" y1="247.96" x2="345.50" y2="251.96" stroke="#222" stroke-width="0.9" />
<line x1="344.20" y1="251.96" x2="346.80" y2="251.96" stroke="#222" stroke-width="0.9" />
<path d="M341.40,244.89 L349.60,244.89 L345.50,251.86Z" fill="#111"/>
<line x1="217.30" y1="207.50" x2="235.70" y2="207.50" stroke="#333" stroke-width="1.0" />
<rect x="223.40" y="204.40" width="6.20" height="6.20" fill="#fff" stroke="#333" stroke-width="1.0"/>
<text x="237.70" y="210.00" font-size="8.3" font-family="Liberation Serif" font-weight="normal" text-anchor="start" fill="#111" stroke="#111" stroke-width="0.12" textLength="48.90" lengthAdjust="spacingAndGlyphs" >Naive BALB/c</text>
<line x1="217.30" y1="217.00" x2="235.70" y2="217.00" stroke="#333" stroke-width="1.0" />
<rect x="223.10" y="213.60" width="6.80" height="6.80" fill="#111"/>
<text x="237.70" y="220.00" font-size="8.3" font-family="Liberation Serif" font-weight="normal" text-anchor="start" fill="#111" stroke="#111" stroke-width="0.12" textLength="40.40" lengthAdjust="spacingAndGlyphs" >Naive SCID</text>
<line x1="217.30" y1="227.30" x2="235.70" y2="227.30" stroke="#333" stroke-width="1.0" />
<circle cx="226.50" cy="227.30" r="3.90" fill="#111"/>
<text x="237.70" y="230.00" font-size="8.3" font-family="Liberation Serif" font-weight="normal" text-anchor="start" fill="#111" stroke="#111" stroke-width="0.12" textLength="71.10" lengthAdjust="spacingAndGlyphs" >BiFP-treated BALB/c</text>
<line x1="217.30" y1="237.50" x2="235.70" y2="237.50" stroke="#333" stroke-width="1.0" />
<path d="M222.30,234.35 L230.70,234.35 L226.50,241.49Z" fill="#111"/>
<text x="237.70" y="240.00" font-size="8.3" font-family="Liberation Serif" font-weight="normal" text-anchor="start" fill="#111" stroke="#111" stroke-width="0.12" textLength="62.30" lengthAdjust="spacingAndGlyphs" >BiFP-treated SCID</text>
<line x1="390.90" y1="205.60" x2="390.90" y2="305.30" stroke="#666" stroke-width="1.2" />
<line x1="390.30" y1="304.80" x2="510.40" y2="304.80" stroke="#666" stroke-width="1.2" />
<line x1="388.10" y1="297.60" x2="390.90" y2="297.60" stroke="#666" stroke-width="1" />
<text x="387.60" y="302.11" font-size="14.5" font-family="Liberation Serif" font-weight="normal" text-anchor="end" fill="#111" stroke="#111" stroke-width="0.25" textLength="6.50" lengthAdjust="spacingAndGlyphs" >0</text>
<line x1="388.10" y1="278.35" x2="390.90" y2="278.35" stroke="#666" stroke-width="1" />
<text x="387.60" y="282.86" font-size="14.5" font-family="Liberation Serif" font-weight="normal" text-anchor="end" fill="#111" stroke="#111" stroke-width="0.25" textLength="13.00" lengthAdjust="spacingAndGlyphs" >50</text>
<line x1="388.10" y1="259.10" x2="390.90" y2="259.10" stroke="#666" stroke-width="1" />
<text x="387.60" y="263.61" font-size="14.5" font-family="Liberation Serif" font-weight="normal" text-anchor="end" fill="#111" stroke="#111" stroke-width="0.25" textLength="19.50" lengthAdjust="spacingAndGlyphs" >100</text>
<line x1="388.10" y1="239.85" x2="390.90" y2="239.85" stroke="#666" stroke-width="1" />
<text x="387.60" y="244.36" font-size="14.5" font-family="Liberation Serif" font-weight="normal" text-anchor="end" fill="#111" stroke="#111" stroke-width="0.25" textLength="19.50" lengthAdjust="spacingAndGlyphs" >150</text>
<line x1="388.10" y1="220.60" x2="390.90" y2="220.60" stroke="#666" stroke-width="1" />
<text x="387.60" y="225.11" font-size="14.5" font-family="Liberation Serif" font-weight="normal" text-anchor="end" fill="#111" stroke="#111" stroke-width="0.25" textLength="19.50" lengthAdjust="spacingAndGlyphs" >200</text>
<line x1="389.10" y1="287.98" x2="390.90" y2="287.98" stroke="#666" stroke-width="0.8" />
<line x1="389.10" y1="268.73" x2="390.90" y2="268.73" stroke="#666" stroke-width="0.8" />
<line x1="389.10" y1="249.48" x2="390.90" y2="249.48" stroke="#666" stroke-width="0.8" />
<line x1="389.10" y1="230.23" x2="390.90" y2="230.23" stroke="#666" stroke-width="0.8" />
<line x1="389.10" y1="210.98" x2="390.90" y2="210.98" stroke="#666" stroke-width="0.8" />
<line x1="399.70" y1="304.80" x2="399.70" y2="307.30" stroke="#666" stroke-width="1" />
<text x="399.70" y="320.31" font-size="14.5" font-family="Liberation Serif" font-weight="normal" text-anchor="middle" fill="#111" stroke="#111" stroke-width="0.25" textLength="6.75" lengthAdjust="spacingAndGlyphs" >0</text>
<line x1="416.62" y1="304.80" x2="416.62" y2="307.30" stroke="#666" stroke-width="1" />
<text x="416.62" y="320.31" font-size="14.5" font-family="Liberation Serif" font-weight="normal" text-anchor="middle" fill="#111" stroke="#111" stroke-width="0.25" textLength="13.50" lengthAdjust="spacingAndGlyphs" >20</text>
<line x1="433.54" y1="304.80" x2="433.54" y2="307.30" stroke="#666" stroke-width="1" />
<text x="433.54" y="320.31" font-size="14.5" font-family="Liberation Serif" font-weight="normal" text-anchor="middle" fill="#111" stroke="#111" stroke-width="0.25" textLength="13.50" lengthAdjust="spacingAndGlyphs" >40</text>
<line x1="450.46" y1="304.80" x2="450.46" y2="307.30" stroke="#666" stroke-width="1" />
<text x="450.46" y="320.31" font-size="14.5" font-family="Liberation Serif" font-weight="normal" text-anchor="middle" fill="#111" stroke="#111" stroke-width="0.25" textLength="13.50" lengthAdjust="spacingAndGlyphs" >60</text>
<line x1="467.38" y1="304.80" x2="467.38" y2="307.30" stroke="#666" stroke-width="1" />
<text x="467.38" y="320.31" font-size="14.5" font-family="Liberation Serif" font-weight="normal" text-anchor="middle" fill="#111" stroke="#111" stroke-width="0.25" textLength="13.50" lengthAdjust="spacingAndGlyphs" >80</text>
<line x1="484.30" y1="304.80" x2="484.30" y2="307.30" stroke="#666" stroke-width="1" />
<text x="484.30" y="320.31" font-size="14.5" font-family="Liberation Serif" font-weight="normal" text-anchor="middle" fill="#111" stroke="#111" stroke-width="0.25" textLength="20.25" lengthAdjust="spacingAndGlyphs" >100</text>
<line x1="501.22" y1="304.80" x2="501.22" y2="307.30" stroke="#666" stroke-width="1" />
<text x="501.22" y="320.31" font-size="14.5" font-family="Liberation Serif" font-weight="normal" text-anchor="middle" fill="#111" stroke="#111" stroke-width="0.25" textLength="20.25" lengthAdjust="spacingAndGlyphs" >120</text>
<line x1="408.16" y1="304.80" x2="408.16" y2="306.40" stroke="#666" stroke-width="0.8" />
<line x1="425.08" y1="304.80" x2="425.08" y2="306.40" stroke="#666" stroke-width="0.8" />
<line x1="442.00" y1="304.80" x2="442.00" y2="306.40" stroke="#666" stroke-width="0.8" />
<line x1="458.92" y1="304.80" x2="458.92" y2="306.40" stroke="#666" stroke-width="0.8" />
<line x1="475.84" y1="304.80" x2="475.84" y2="306.40" stroke="#666" stroke-width="0.8" />
<line x1="492.76" y1="304.80" x2="492.76" y2="306.40" stroke="#666" stroke-width="0.8" />
<g transform="translate(366.80,309.45) rotate(-90) scale(1.1356,1)"><text x="0" y="0" font-size="13.1" font-family="Liberation Serif" fill="#111" stroke="#111" stroke-width="0.25">Tumor size (mm<tspan dy="-7.9" font-size="8.0">2</tspan><tspan dy="7.9">)</tspan></text></g>
<text x="382.80" y="329.90" font-size="12.4" font-family="Liberation Serif" font-weight="normal" text-anchor="start" fill="#111" stroke="#111" stroke-width="0.25" textLength="134.80" lengthAdjust="spacingAndGlyphs" >Days after tumor inoculation</text>
<polyline points="399.70,297.60 403.93,295.68 411.54,289.13 425.08,282.97 450.46,273.35 484.30,262.18 501.22,251.40" fill="none" stroke="#222" stroke-width="1.0" stroke-linejoin="round"/>
<polyline points="399.70,297.60 403.93,294.91 411.54,288.36 425.08,282.20 450.46,269.11 484.30,257.18 501.22,249.09" fill="none" stroke="#222" stroke-width="1.0" stroke-linejoin="round"/>
<polyline points="399.70,297.60 403.93,295.68 411.54,289.13 425.08,282.59 450.46,270.65 484.30,259.10 501.22,252.17" fill="none" stroke="#222" stroke-width="1.0" stroke-linejoin="round"/>
<polyline points="399.70,297.60 403.93,297.60 411.54,297.02 425.08,292.98 450.46,289.90 484.30,286.44 501.22,281.81" fill="none" stroke="#222" stroke-width="1.0" stroke-linejoin="round"/>
<rect x="397.10" y="295.00" width="5.20" height="5.20" fill="#fff" stroke="#333" stroke-width="1.0"/>
<rect x="401.33" y="293.07" width="5.20" height="5.20" fill="#fff" stroke="#333" stroke-width="1.0"/>
<rect x="408.94" y="286.53" width="5.20" height="5.20" fill="#fff" stroke="#333" stroke-width="1.0"/>
<line x1="425.08" y1="279.57" x2="425.08" y2="282.97" stroke="#222" stroke-width="0.9" />
<line x1="423.78" y1="279.57" x2="426.38" y2="279.57" stroke="#222" stroke-width="0.9" />
<line x1="425.08" y1="282.97" x2="425.08" y2="286.37" stroke="#222" stroke-width="0.9" />
<line x1="423.78" y1="286.37" x2="426.38" y2="286.37" stroke="#222" stroke-width="0.9" />
<rect x="422.48" y="280.37" width="5.20" height="5.20" fill="#fff" stroke="#333" stroke-width="1.0"/>
<line x1="450.46" y1="269.15" x2="450.46" y2="273.35" stroke="#222" stroke-width="0.9" />
<line x1="449.16" y1="269.15" x2="451.76" y2="269.15" stroke="#222" stroke-width="0.9" />
<line x1="450.46" y1="273.35" x2="450.46" y2="277.55" stroke="#222" stroke-width="0.9" />
<line x1="449.16" y1="277.55" x2="451.76" y2="277.55" stroke="#222" stroke-width="0.9" />
<rect x="447.86" y="270.75" width="5.20" height="5.20" fill="#fff" stroke="#333" stroke-width="1.0"/>
<line x1="484.30" y1="258.18" x2="484.30" y2="262.18" stroke="#222" stroke-width="0.9" />
<line x1="483.00" y1="258.18" x2="485.60" y2="258.18" stroke="#222" stroke-width="0.9" />
<line x1="484.30" y1="262.18" x2="484.30" y2="266.18" stroke="#222" stroke-width="0.9" />
<line x1="483.00" y1="266.18" x2="485.60" y2="266.18" stroke="#222" stroke-width="0.9" />
<rect x="481.70" y="259.58" width="5.20" height="5.20" fill="#fff" stroke="#333" stroke-width="1.0"/>
<line x1="501.22" y1="247.80" x2="501.22" y2="251.40" stroke="#222" stroke-width="0.9" />
<line x1="499.92" y1="247.80" x2="502.52" y2="247.80" stroke="#222" stroke-width="0.9" />
<line x1="501.22" y1="251.40" x2="501.22" y2="255.00" stroke="#222" stroke-width="0.9" />
<line x1="499.92" y1="255.00" x2="502.52" y2="255.00" stroke="#222" stroke-width="0.9" />
<rect x="498.62" y="248.80" width="5.20" height="5.20" fill="#fff" stroke="#333" stroke-width="1.0"/>
<rect x="396.60" y="294.50" width="6.20" height="6.20" fill="#111"/>
<rect x="400.83" y="291.81" width="6.20" height="6.20" fill="#111"/>
<rect x="408.44" y="285.26" width="6.20" height="6.20" fill="#111"/>
<line x1="425.08" y1="278.80" x2="425.08" y2="282.20" stroke="#222" stroke-width="0.9" />
<line x1="423.78" y1="278.80" x2="426.38" y2="278.80" stroke="#222" stroke-width="0.9" />
<line x1="425.08" y1="282.20" x2="425.08" y2="285.60" stroke="#222" stroke-width="0.9" />
<line x1="423.78" y1="285.60" x2="426.38" y2="285.60" stroke="#222" stroke-width="0.9" />
<rect x="421.98" y="279.10" width="6.20" height="6.20" fill="#111"/>
<line x1="450.46" y1="265.51" x2="450.46" y2="269.11" stroke="#222" stroke-width="0.9" />
<line x1="449.16" y1="265.51" x2="451.76" y2="265.51" stroke="#222" stroke-width="0.9" />
<line x1="450.46" y1="269.11" x2="450.46" y2="272.71" stroke="#222" stroke-width="0.9" />
<line x1="449.16" y1="272.71" x2="451.76" y2="272.71" stroke="#222" stroke-width="0.9" />
<rect x="447.36" y="266.01" width="6.20" height="6.20" fill="#111"/>
<line x1="484.30" y1="253.58" x2="484.30" y2="257.18" stroke="#222" stroke-width="0.9" />
<line x1="483.00" y1="253.58" x2="485.60" y2="253.58" stroke="#222" stroke-width="0.9" />
<line x1="484.30" y1="257.18" x2="484.30" y2="260.78" stroke="#222" stroke-width="0.9" />
<line x1="483.00" y1="260.78" x2="485.60" y2="260.78" stroke="#222" stroke-width="0.9" />
<rect x="481.20" y="254.08" width="6.20" height="6.20" fill="#111"/>
<line x1="501.22" y1="245.49" x2="501.22" y2="249.09" stroke="#222" stroke-width="0.9" />
<line x1="499.92" y1="245.49" x2="502.52" y2="245.49" stroke="#222" stroke-width="0.9" />
<line x1="501.22" y1="249.09" x2="501.22" y2="252.69" stroke="#222" stroke-width="0.9" />
<line x1="499.92" y1="252.69" x2="502.52" y2="252.69" stroke="#222" stroke-width="0.9" />
<rect x="498.12" y="245.99" width="6.20" height="6.20" fill="#111"/>
<circle cx="399.70" cy="297.60" r="3.30" fill="#111"/>
<circle cx="403.93" cy="295.68" r="3.30" fill="#111"/>
<circle cx="411.54" cy="289.13" r="3.30" fill="#111"/>
<circle cx="425.08" cy="282.59" r="3.30" fill="#111"/>
<circle cx="450.46" cy="270.65" r="3.30" fill="#111"/>
<circle cx="484.30" cy="259.10" r="3.30" fill="#111"/>
<circle cx="501.22" cy="252.17" r="3.30" fill="#111"/>
<path d="M395.40,294.38 L404.00,294.38 L399.70,301.69Z" fill="#111"/>
<path d="M399.63,294.38 L408.23,294.38 L403.93,301.69Z" fill="#111"/>
<path d="M407.24,293.80 L415.84,293.80 L411.54,301.11Z" fill="#111"/>
<line x1="425.08" y1="287.98" x2="425.08" y2="292.98" stroke="#222" stroke-width="0.9" />
<line x1="423.78" y1="287.98" x2="426.38" y2="287.98" stroke="#222" stroke-width="0.9" />
<path d="M420.78,289.75 L429.38,289.75 L425.08,297.06Z" fill="#111"/>
<line x1="450.46" y1="284.50" x2="450.46" y2="289.90" stroke="#222" stroke-width="0.9" />
<line x1="449.16" y1="284.50" x2="451.76" y2="284.50" stroke="#222" stroke-width="0.9" />
<path d="M446.16,286.68 L454.76,286.68 L450.46,293.99Z" fill="#111"/>
<line x1="484.30" y1="280.83" x2="484.30" y2="286.44" stroke="#222" stroke-width="0.9" />
<line x1="483.00" y1="280.83" x2="485.60" y2="280.83" stroke="#222" stroke-width="0.9" />
<path d="M480.00,283.21 L488.60,283.21 L484.30,290.52Z" fill="#111"/>
<line x1="501.22" y1="276.21" x2="501.22" y2="281.81" stroke="#222" stroke-width="0.9" />
<line x1="499.92" y1="276.21" x2="502.52" y2="276.21" stroke="#222" stroke-width="0.9" />
<path d="M496.92,278.59 L505.52,278.59 L501.22,285.90Z" fill="#111"/>
<line x1="392.30" y1="207.70" x2="406.40" y2="207.70" stroke="#333" stroke-width="1.0" />
<rect x="397.00" y="205.50" width="4.40" height="4.40" fill="#fff" stroke="#333" stroke-width="1.0"/>
<text x="407.70" y="210.30" font-size="7.3" font-family="Liberation Serif" font-weight="normal" text-anchor="start" fill="#111" textLength="35.70" lengthAdjust="spacingAndGlyphs" >Naive BALB/c</text>
<line x1="392.30" y1="216.60" x2="406.40" y2="216.60" stroke="#333" stroke-width="1.0" />
<rect x="396.60" y="214.00" width="5.20" height="5.20" fill="#111"/>
<text x="407.70" y="218.70" font-size="7.3" font-family="Liberation Serif" font-weight="normal" text-anchor="start" fill="#111" textLength="30.20" lengthAdjust="spacingAndGlyphs" >Naive SCID</text>
<line x1="392.30" y1="225.20" x2="406.40" y2="225.20" stroke="#333" stroke-width="1.0" />
<circle cx="399.20" cy="225.20" r="3.10" fill="#111"/>
<text x="407.70" y="227.00" font-size="7.3" font-family="Liberation Serif" font-weight="normal" text-anchor="start" fill="#111" textLength="93.40" lengthAdjust="spacingAndGlyphs" >Adoptive transfer from naive BALB/c</text>
<line x1="392.30" y1="233.50" x2="406.40" y2="233.50" stroke="#333" stroke-width="1.0" />
<path d="M395.70,230.88 L402.70,230.88 L399.20,236.82Z" fill="#111"/>
<text x="407.70" y="235.00" font-size="7.3" font-family="Liberation Serif" font-weight="normal" text-anchor="start" fill="#111" textLength="108.40" lengthAdjust="spacingAndGlyphs" >Adoptive transfer from BiFP-treated BALB/c</text>
</svg>
</body></html>
